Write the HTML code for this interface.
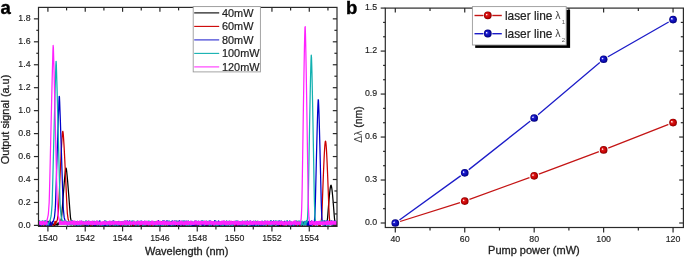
<!DOCTYPE html>
<html><head><meta charset="utf-8"><style>
html,body{margin:0;padding:0;background:#fff;}
svg{display:block;will-change:transform;font-family:"Liberation Sans",sans-serif;}
</style></head><body>
<svg width="685" height="258" viewBox="0 0 685 258">
<defs>
<clipPath id="clipA"><rect x="38.5" y="7.4" width="298.5" height="219.0"/></clipPath>
<radialGradient id="gr" cx="0.5" cy="0.5" r="0.5" fx="0.31" fy="0.38">
<stop offset="0" stop-color="#ffffff"/><stop offset="0.12" stop-color="#ffc8c8"/><stop offset="0.3" stop-color="#dc1c1c"/><stop offset="0.75" stop-color="#c00000"/><stop offset="1" stop-color="#7a0000"/></radialGradient>
<radialGradient id="gb" cx="0.5" cy="0.5" r="0.5" fx="0.31" fy="0.38">
<stop offset="0" stop-color="#ffffff"/><stop offset="0.12" stop-color="#c8c8ff"/><stop offset="0.3" stop-color="#2020d0"/><stop offset="0.75" stop-color="#0808a8"/><stop offset="1" stop-color="#000070"/></radialGradient>
</defs>
<rect width="685" height="258" fill="#fff"/>
<g clip-path="url(#clipA)">
<polyline fill="none" stroke="#000000" stroke-width="1.25" stroke-linejoin="round" points="39.10,225.06 39.55,225.40 40.00,223.56 40.45,225.40 40.90,224.09 41.35,224.87 41.80,225.40 42.25,224.22 42.70,225.40 43.15,224.56 43.60,225.40 44.05,225.40 44.50,224.60 44.95,222.75 45.40,225.40 45.85,225.40 46.30,223.67 46.75,222.20 47.20,223.90 47.65,224.73 48.10,222.07 48.55,225.40 49.00,222.61 49.45,225.22 49.90,225.40 50.35,225.40 50.80,225.13 51.25,222.80 51.70,225.40 52.15,223.88 52.60,223.61 53.05,224.84 53.50,224.03 53.95,225.40 54.40,225.40 54.85,225.40 55.30,223.42 55.75,224.58 56.20,225.11 56.65,223.86 57.10,224.47 57.55,225.17 58.00,222.90 58.25,223.34 58.50,224.54 58.75,223.91 59.00,224.04 59.25,222.53 59.50,223.20 59.75,223.13 60.00,222.05 60.25,222.42 60.50,222.06 60.75,221.18 61.00,220.08 61.25,218.99 61.50,217.81 61.75,214.80 62.00,211.79 62.25,208.73 62.50,205.35 62.75,201.98 63.00,198.66 63.25,195.41 63.50,192.18 63.75,189.00 64.00,185.83 64.25,182.73 64.50,179.72 64.75,176.99 65.00,174.57 65.25,172.12 65.50,169.98 65.75,168.54 66.00,168.03 66.25,168.54 66.50,169.98 66.75,172.12 67.00,174.57 67.25,176.99 67.50,179.72 67.75,182.73 68.00,185.83 68.25,189.00 68.50,192.18 68.75,195.41 69.00,198.66 69.25,201.98 69.50,205.35 69.75,208.73 70.00,211.79 70.25,214.80 70.50,217.81 70.75,218.99 71.00,220.08 71.25,221.18 71.50,222.06 71.75,222.42 72.00,222.15 72.25,223.13 72.50,223.48 72.75,223.79 73.00,224.04 73.25,224.29 73.50,223.84 73.75,224.79 74.00,225.05 74.45,224.62 74.90,224.85 75.35,223.95 75.80,222.17 76.25,223.38 76.70,224.18 77.15,223.71 77.60,223.44 78.05,225.40 78.50,222.42 78.95,222.97 79.40,222.53 79.85,222.89 80.30,224.75 80.75,224.72 81.20,225.40 81.65,223.64 82.10,225.40 82.55,225.40 83.00,225.40 83.45,225.40 83.90,224.99 84.35,225.40 84.80,225.40 85.25,225.40 85.70,225.40 86.15,224.88 86.60,225.40 87.05,222.53 87.50,223.73 87.95,225.40 88.40,225.39 88.85,224.95 89.30,224.88 89.75,225.40 90.20,222.65 90.65,221.99 91.10,224.41 91.55,224.33 92.00,225.40 92.45,225.40 92.90,224.97 93.35,225.33 93.80,222.74 94.25,225.40 94.70,225.40 95.15,222.18 95.60,224.12 96.05,225.40 96.50,224.05 96.95,225.40 97.40,224.12 97.85,222.06 98.30,222.58 98.75,223.35 99.20,225.35 99.65,224.86 100.10,225.40 100.55,223.00 101.00,224.10 101.45,222.97 101.90,225.03 102.35,225.40 102.80,222.82 103.25,222.03 103.70,222.63 104.15,222.85 104.60,222.79 105.05,223.15 105.50,225.40 105.95,224.17 106.40,224.92 106.85,225.40 107.30,225.40 107.75,225.26 108.20,225.36 108.65,223.37 109.10,222.16 109.55,224.49 110.00,222.25 110.45,222.01 110.90,222.16 111.35,224.87 111.80,225.40 112.25,225.40 112.70,225.40 113.15,225.40 113.60,223.68 114.05,222.42 114.50,222.69 114.95,224.35 115.40,223.55 115.85,222.88 116.30,225.40 116.75,223.52 117.20,222.37 117.65,222.96 118.10,223.10 118.55,224.35 119.00,225.40 119.45,222.93 119.90,225.02 120.35,222.87 120.80,222.09 121.25,224.73 121.70,224.71 122.15,222.20 122.60,223.22 123.05,225.40 123.50,225.40 123.95,225.40 124.40,222.39 124.85,222.85 125.30,225.40 125.75,222.75 126.20,222.05 126.65,223.53 127.10,224.94 127.55,224.03 128.00,225.40 128.45,225.40 128.90,222.09 129.35,223.57 129.80,224.13 130.25,222.26 130.70,224.56 131.15,222.55 131.60,222.76 132.05,225.40 132.50,225.39 132.95,225.20 133.40,225.40 133.85,223.86 134.30,225.36 134.75,224.62 135.20,225.40 135.65,222.37 136.10,224.92 136.55,224.44 137.00,223.87 137.45,222.40 137.90,224.62 138.35,222.34 138.80,224.24 139.25,224.11 139.70,224.14 140.15,225.40 140.60,224.53 141.05,225.40 141.50,225.40 141.95,222.88 142.40,225.40 142.85,224.37 143.30,223.22 143.75,223.99 144.20,225.05 144.65,224.17 145.10,224.00 145.55,222.95 146.00,225.40 146.45,223.98 146.90,225.40 147.35,225.28 147.80,223.00 148.25,224.22 148.70,223.97 149.15,223.06 149.60,222.36 150.05,224.51 150.50,223.74 150.95,224.23 151.40,224.20 151.85,223.37 152.30,224.47 152.75,224.10 153.20,224.35 153.65,222.23 154.10,223.34 154.55,222.52 155.00,222.22 155.45,225.36 155.90,223.98 156.35,222.22 156.80,222.69 157.25,225.40 157.70,225.40 158.15,224.52 158.60,225.40 159.05,225.40 159.50,225.40 159.95,223.47 160.40,222.95 160.85,222.43 161.30,225.40 161.75,223.26 162.20,223.52 162.65,225.40 163.10,222.50 163.55,222.11 164.00,225.40 164.45,222.18 164.90,224.72 165.35,224.31 165.80,222.00 166.25,222.73 166.70,225.40 167.15,224.57 167.60,224.18 168.05,224.99 168.50,225.40 168.95,225.09 169.40,223.23 169.85,225.40 170.30,224.00 170.75,224.53 171.20,225.40 171.65,225.03 172.10,223.68 172.55,224.20 173.00,225.40 173.45,222.03 173.90,222.93 174.35,222.09 174.80,225.40 175.25,225.33 175.70,225.40 176.15,222.97 176.60,225.31 177.05,225.40 177.50,224.61 177.95,222.36 178.40,222.79 178.85,225.36 179.30,225.40 179.75,222.33 180.20,223.93 180.65,223.33 181.10,225.40 181.55,225.40 182.00,223.39 182.45,224.60 182.90,225.40 183.35,222.24 183.80,223.64 184.25,222.87 184.70,225.40 185.15,222.62 185.60,225.40 186.05,222.59 186.50,224.46 186.95,224.99 187.40,224.01 187.85,222.29 188.30,225.32 188.75,225.40 189.20,224.13 189.65,225.40 190.10,225.40 190.55,225.40 191.00,225.40 191.45,225.40 191.90,225.12 192.35,225.15 192.80,223.06 193.25,225.22 193.70,224.25 194.15,225.40 194.60,224.95 195.05,225.40 195.50,225.40 195.95,225.40 196.40,223.18 196.85,224.02 197.30,225.40 197.75,224.37 198.20,222.26 198.65,225.40 199.10,222.79 199.55,224.56 200.00,224.28 200.45,222.72 200.90,224.74 201.35,224.22 201.80,223.39 202.25,222.04 202.70,224.97 203.15,222.73 203.60,223.30 204.05,223.63 204.50,224.69 204.95,224.95 205.40,225.40 205.85,225.40 206.30,225.40 206.75,223.15 207.20,225.37 207.65,225.40 208.10,225.40 208.55,222.69 209.00,222.55 209.45,223.47 209.90,225.25 210.35,225.40 210.80,225.20 211.25,224.44 211.70,225.40 212.15,224.50 212.60,225.34 213.05,222.13 213.50,222.08 213.95,224.04 214.40,225.40 214.85,222.12 215.30,225.13 215.75,224.91 216.20,225.40 216.65,224.80 217.10,224.37 217.55,224.24 218.00,225.40 218.45,224.23 218.90,225.40 219.35,225.33 219.80,225.40 220.25,224.71 220.70,225.40 221.15,225.40 221.60,225.15 222.05,225.40 222.50,223.86 222.95,224.12 223.40,223.10 223.85,223.53 224.30,223.26 224.75,222.51 225.20,224.76 225.65,225.05 226.10,222.03 226.55,225.40 227.00,223.22 227.45,223.60 227.90,225.40 228.35,222.71 228.80,222.45 229.25,223.67 229.70,223.18 230.15,222.82 230.60,225.40 231.05,224.14 231.50,224.23 231.95,222.72 232.40,222.85 232.85,222.75 233.30,223.87 233.75,222.45 234.20,223.41 234.65,223.37 235.10,225.40 235.55,225.40 236.00,225.40 236.45,224.89 236.90,225.40 237.35,222.71 237.80,223.98 238.25,223.67 238.70,223.67 239.15,223.42 239.60,224.30 240.05,225.40 240.50,222.89 240.95,223.11 241.40,224.24 241.85,224.09 242.30,223.52 242.75,225.40 243.20,223.17 243.65,225.39 244.10,225.40 244.55,225.33 245.00,223.20 245.45,225.40 245.90,223.15 246.35,222.07 246.80,224.28 247.25,224.79 247.70,224.35 248.15,223.41 248.60,223.03 249.05,223.72 249.50,223.60 249.95,225.40 250.40,225.40 250.85,225.38 251.30,223.14 251.75,225.15 252.20,223.94 252.65,225.40 253.10,225.40 253.55,225.31 254.00,223.46 254.45,223.37 254.90,223.45 255.35,225.21 255.80,224.18 256.25,224.41 256.70,224.41 257.15,225.40 257.60,222.45 258.05,225.40 258.50,222.06 258.95,222.25 259.40,225.40 259.85,224.44 260.30,222.78 260.75,222.10 261.20,224.48 261.65,225.31 262.10,225.40 262.55,222.21 263.00,225.40 263.45,223.88 263.90,225.40 264.35,224.14 264.80,222.17 265.25,225.40 265.70,222.78 266.15,224.21 266.60,222.48 267.05,223.32 267.50,225.40 267.95,222.43 268.40,224.32 268.85,225.40 269.30,225.40 269.75,224.29 270.20,224.48 270.65,225.16 271.10,225.40 271.55,224.97 272.00,225.10 272.45,222.69 272.90,225.40 273.35,223.10 273.80,222.70 274.25,225.40 274.70,222.30 275.15,223.27 275.60,222.41 276.05,225.22 276.50,224.84 276.95,224.74 277.40,221.96 277.85,223.84 278.30,224.89 278.75,224.58 279.20,225.28 279.65,225.40 280.10,225.40 280.55,222.72 281.00,225.24 281.45,222.25 281.90,225.40 282.35,225.33 282.80,224.20 283.25,225.40 283.70,224.83 284.15,222.16 284.60,222.49 285.05,222.82 285.50,223.65 285.95,222.35 286.40,222.23 286.85,224.03 287.30,223.24 287.75,225.40 288.20,223.19 288.65,224.48 289.10,223.09 289.55,223.59 290.00,225.23 290.45,225.40 290.90,222.29 291.35,225.40 291.80,224.38 292.25,224.97 292.70,225.18 293.15,223.16 293.60,222.07 294.05,225.35 294.50,223.54 294.95,225.17 295.40,223.99 295.85,224.74 296.30,225.40 296.75,225.40 297.20,225.40 297.65,222.39 298.10,224.27 298.55,225.40 299.00,222.39 299.45,221.97 299.90,224.48 300.35,225.40 300.80,225.40 301.25,225.40 301.70,224.98 302.15,225.40 302.60,225.40 303.05,225.36 303.50,223.93 303.95,222.48 304.40,223.11 304.85,224.65 305.30,224.65 305.75,224.14 306.20,224.82 306.65,225.00 307.10,225.40 307.55,225.27 308.00,222.11 308.45,225.40 308.90,224.24 309.35,223.66 309.80,222.59 310.25,225.40 310.70,225.30 311.15,225.40 311.60,224.71 312.05,224.50 312.50,222.17 312.95,222.65 313.40,222.54 313.85,225.40 314.30,225.40 314.75,223.29 315.20,222.44 315.65,224.38 316.10,223.85 316.55,225.40 317.00,224.75 317.45,222.29 317.90,222.76 318.35,222.62 318.80,222.08 319.25,225.40 319.70,225.40 320.15,225.40 320.60,224.15 321.05,223.42 321.50,222.23 321.95,223.23 322.40,223.58 322.85,223.04 323.30,224.45 323.55,224.02 323.80,225.40 324.05,222.96 324.30,225.40 324.55,222.33 324.80,223.58 325.05,225.15 325.30,225.40 325.55,225.39 325.80,223.63 326.05,223.34 326.30,224.41 326.55,224.02 326.80,223.29 327.05,222.11 327.30,220.46 327.55,218.02 327.80,215.01 328.05,211.80 328.30,208.61 328.55,205.45 328.80,202.33 329.05,199.42 329.30,196.65 329.55,193.97 329.80,191.55 330.05,189.35 330.30,187.65 330.55,186.30 330.80,185.46 331.05,185.25 331.30,185.73 331.55,186.79 331.80,188.29 332.05,190.21 332.30,192.48 332.55,195.03 332.80,197.75 333.05,200.55 333.30,203.58 333.55,206.71 333.80,209.89 334.05,213.08 334.30,216.30 334.55,219.00 334.80,221.41 335.05,222.58 335.30,222.10 335.55,224.18 335.80,222.78 336.05,224.97 336.30,225.36"/>
<polyline fill="none" stroke="#cc0000" stroke-width="1.25" stroke-linejoin="round" points="39.10,222.51 39.55,224.91 40.00,221.52 40.45,223.87 40.90,225.40 41.35,225.28 41.80,224.28 42.25,223.00 42.70,221.53 43.15,225.40 43.60,224.40 44.05,225.33 44.50,221.40 44.95,225.40 45.40,225.40 45.85,225.40 46.30,224.40 46.75,221.79 47.20,221.87 47.65,222.65 48.10,221.28 48.55,221.62 49.00,224.73 49.45,225.40 49.90,221.60 50.35,222.58 50.80,225.40 51.25,223.00 51.70,224.48 52.15,224.50 52.60,224.72 53.05,225.40 53.50,225.40 53.95,224.99 54.40,224.62 54.85,221.50 55.10,224.32 55.35,221.45 55.60,223.50 55.85,223.09 56.10,222.19 56.35,222.14 56.60,221.55 56.85,220.97 57.10,220.39 57.35,219.81 57.60,218.12 57.85,216.32 58.10,214.52 58.35,211.96 58.60,207.02 58.85,202.10 59.10,196.95 59.35,191.41 59.60,185.89 59.85,180.47 60.10,175.15 60.35,169.87 60.60,164.66 60.85,159.48 61.10,154.42 61.35,149.52 61.60,145.19 61.85,141.30 62.10,137.25 62.35,133.94 62.60,131.85 62.85,131.34 63.10,132.51 63.35,135.14 63.60,138.84 63.85,142.81 64.10,146.84 64.35,151.46 64.60,156.43 64.85,161.54 65.10,166.74 65.35,171.98 65.60,177.27 65.85,182.61 66.10,188.10 66.35,193.62 66.60,199.16 66.85,204.07 67.10,209.00 67.35,213.45 67.60,215.24 67.85,217.04 68.10,218.85 68.35,220.04 68.60,220.62 68.85,221.20 69.10,221.79 69.35,222.37 69.60,222.84 69.85,223.25 70.10,222.55 70.35,224.08 70.60,224.49 70.85,224.90 71.30,223.58 71.75,224.75 72.20,221.37 72.65,221.87 73.10,221.33 73.55,225.06 74.00,225.40 74.45,225.40 74.90,223.86 75.35,222.77 75.80,224.12 76.25,225.22 76.70,224.28 77.15,223.23 77.60,222.95 78.05,222.57 78.50,222.06 78.95,223.00 79.40,225.40 79.85,222.09 80.30,224.92 80.75,223.51 81.20,224.51 81.65,222.62 82.10,225.40 82.55,225.16 83.00,225.17 83.45,225.40 83.90,221.87 84.35,223.45 84.80,224.75 85.25,224.39 85.70,221.31 86.15,223.81 86.60,225.24 87.05,222.26 87.50,223.06 87.95,221.32 88.40,225.40 88.85,223.98 89.30,222.20 89.75,222.09 90.20,221.71 90.65,225.40 91.10,224.92 91.55,225.40 92.00,225.40 92.45,221.41 92.90,223.42 93.35,221.63 93.80,224.51 94.25,221.96 94.70,224.11 95.15,225.09 95.60,222.42 96.05,221.55 96.50,225.40 96.95,223.35 97.40,223.23 97.85,225.31 98.30,224.53 98.75,225.40 99.20,225.38 99.65,225.12 100.10,223.34 100.55,223.07 101.00,225.38 101.45,225.40 101.90,224.74 102.35,222.93 102.80,225.40 103.25,224.82 103.70,225.38 104.15,222.33 104.60,223.60 105.05,225.40 105.50,225.40 105.95,224.39 106.40,223.59 106.85,223.13 107.30,225.40 107.75,225.40 108.20,222.84 108.65,224.32 109.10,224.97 109.55,224.84 110.00,221.51 110.45,224.82 110.90,223.51 111.35,224.59 111.80,224.28 112.25,221.97 112.70,221.29 113.15,224.55 113.60,225.40 114.05,222.67 114.50,225.38 114.95,225.40 115.40,221.78 115.85,224.24 116.30,222.20 116.75,224.34 117.20,221.87 117.65,224.05 118.10,225.40 118.55,225.40 119.00,223.58 119.45,223.12 119.90,221.73 120.35,225.40 120.80,223.22 121.25,224.52 121.70,223.83 122.15,225.40 122.60,224.97 123.05,223.74 123.50,221.65 123.95,225.40 124.40,223.90 124.85,222.28 125.30,221.44 125.75,225.40 126.20,225.40 126.65,221.56 127.10,221.40 127.55,223.94 128.00,225.40 128.45,221.65 128.90,224.43 129.35,221.76 129.80,223.23 130.25,222.17 130.70,225.40 131.15,222.37 131.60,225.29 132.05,224.34 132.50,222.06 132.95,222.15 133.40,225.40 133.85,225.31 134.30,224.37 134.75,223.76 135.20,224.45 135.65,225.40 136.10,225.16 136.55,222.69 137.00,221.80 137.45,225.40 137.90,223.53 138.35,222.52 138.80,225.40 139.25,222.10 139.70,225.40 140.15,223.34 140.60,223.59 141.05,223.19 141.50,224.85 141.95,224.26 142.40,223.42 142.85,224.23 143.30,223.03 143.75,224.13 144.20,224.17 144.65,225.40 145.10,223.24 145.55,223.91 146.00,225.22 146.45,222.49 146.90,222.41 147.35,224.07 147.80,225.40 148.25,223.99 148.70,225.40 149.15,225.40 149.60,224.21 150.05,225.40 150.50,224.15 150.95,223.80 151.40,225.40 151.85,223.15 152.30,225.40 152.75,222.65 153.20,222.42 153.65,223.79 154.10,225.40 154.55,223.83 155.00,224.48 155.45,221.52 155.90,225.40 156.35,222.01 156.80,221.29 157.25,222.65 157.70,222.22 158.15,225.40 158.60,221.36 159.05,223.89 159.50,221.49 159.95,221.70 160.40,225.40 160.85,222.36 161.30,221.63 161.75,225.40 162.20,224.62 162.65,222.53 163.10,225.40 163.55,221.80 164.00,225.01 164.45,222.22 164.90,225.40 165.35,223.84 165.80,221.68 166.25,225.36 166.70,225.08 167.15,223.82 167.60,224.79 168.05,225.40 168.50,225.40 168.95,225.40 169.40,221.60 169.85,222.92 170.30,221.81 170.75,225.40 171.20,222.38 171.65,225.40 172.10,223.69 172.55,223.15 173.00,224.57 173.45,221.93 173.90,223.57 174.35,223.44 174.80,221.88 175.25,225.40 175.70,221.31 176.15,223.18 176.60,224.40 177.05,222.31 177.50,225.07 177.95,221.32 178.40,223.45 178.85,224.57 179.30,222.48 179.75,224.15 180.20,225.40 180.65,222.59 181.10,225.40 181.55,222.20 182.00,225.12 182.45,223.13 182.90,221.35 183.35,223.41 183.80,223.01 184.25,224.82 184.70,225.40 185.15,225.40 185.60,225.40 186.05,223.25 186.50,224.20 186.95,223.79 187.40,221.81 187.85,225.40 188.30,225.26 188.75,223.06 189.20,225.40 189.65,225.40 190.10,224.60 190.55,225.40 191.00,224.59 191.45,225.27 191.90,223.42 192.35,223.39 192.80,225.38 193.25,223.21 193.70,223.98 194.15,225.40 194.60,221.60 195.05,225.17 195.50,225.40 195.95,225.40 196.40,223.14 196.85,221.93 197.30,222.39 197.75,224.36 198.20,225.07 198.65,225.40 199.10,223.10 199.55,223.53 200.00,224.62 200.45,223.10 200.90,224.14 201.35,221.59 201.80,222.65 202.25,225.15 202.70,221.77 203.15,225.40 203.60,223.69 204.05,224.34 204.50,225.21 204.95,225.40 205.40,222.41 205.85,225.40 206.30,223.59 206.75,221.57 207.20,225.40 207.65,225.40 208.10,223.29 208.55,223.81 209.00,223.12 209.45,222.23 209.90,225.40 210.35,224.84 210.80,224.88 211.25,225.40 211.70,221.84 212.15,222.39 212.60,222.74 213.05,225.40 213.50,222.07 213.95,222.58 214.40,224.03 214.85,222.60 215.30,224.10 215.75,225.27 216.20,225.40 216.65,225.23 217.10,225.40 217.55,224.70 218.00,222.56 218.45,222.84 218.90,222.07 219.35,222.76 219.80,225.06 220.25,223.57 220.70,224.18 221.15,222.36 221.60,223.73 222.05,225.06 222.50,223.12 222.95,221.45 223.40,225.31 223.85,221.89 224.30,225.40 224.75,225.09 225.20,225.21 225.65,222.59 226.10,221.55 226.55,222.58 227.00,224.74 227.45,221.89 227.90,224.74 228.35,225.20 228.80,221.75 229.25,223.18 229.70,222.86 230.15,223.00 230.60,221.38 231.05,224.01 231.50,222.10 231.95,222.83 232.40,222.00 232.85,224.18 233.30,222.69 233.75,223.49 234.20,224.84 234.65,225.34 235.10,223.22 235.55,225.40 236.00,221.73 236.45,225.40 236.90,225.40 237.35,225.40 237.80,221.64 238.25,224.65 238.70,225.40 239.15,225.40 239.60,225.40 240.05,222.86 240.50,223.16 240.95,222.83 241.40,222.63 241.85,225.40 242.30,223.38 242.75,224.56 243.20,222.21 243.65,222.20 244.10,221.83 244.55,225.40 245.00,221.95 245.45,221.71 245.90,221.56 246.35,225.40 246.80,225.37 247.25,225.40 247.70,225.40 248.15,222.06 248.60,222.24 249.05,223.16 249.50,222.17 249.95,223.17 250.40,224.95 250.85,225.40 251.30,225.40 251.75,222.52 252.20,225.37 252.65,224.78 253.10,224.24 253.55,225.40 254.00,225.11 254.45,224.97 254.90,222.74 255.35,224.53 255.80,224.78 256.25,221.45 256.70,223.83 257.15,222.04 257.60,223.24 258.05,225.40 258.50,224.30 258.95,224.18 259.40,222.44 259.85,224.64 260.30,222.79 260.75,223.66 261.20,225.31 261.65,221.98 262.10,225.40 262.55,222.20 263.00,225.40 263.45,225.40 263.90,225.39 264.35,222.50 264.80,221.38 265.25,225.40 265.70,223.90 266.15,223.89 266.60,222.32 267.05,225.40 267.50,223.88 267.95,224.64 268.40,222.14 268.85,225.09 269.30,221.56 269.75,224.97 270.20,225.32 270.65,222.82 271.10,223.86 271.55,225.40 272.00,223.15 272.45,225.40 272.90,222.36 273.35,222.83 273.80,222.37 274.25,223.19 274.70,224.60 275.15,224.36 275.60,224.40 276.05,221.83 276.50,225.40 276.95,221.85 277.40,225.40 277.85,225.37 278.30,225.07 278.75,221.78 279.20,223.84 279.65,224.47 280.10,221.87 280.55,225.23 281.00,224.05 281.45,223.69 281.90,222.54 282.35,222.54 282.80,223.10 283.25,224.63 283.70,224.75 284.15,225.40 284.60,222.08 285.05,223.01 285.50,222.60 285.95,225.40 286.40,224.17 286.85,222.44 287.30,223.44 287.75,225.40 288.20,224.05 288.65,221.86 289.10,225.20 289.55,225.40 290.00,224.88 290.45,222.80 290.90,222.08 291.35,225.40 291.80,225.40 292.25,225.15 292.70,224.75 293.15,223.74 293.60,225.40 294.05,224.74 294.50,225.40 294.95,221.40 295.40,222.67 295.85,225.40 296.30,221.46 296.75,225.40 297.20,224.45 297.65,221.35 298.10,222.33 298.55,222.65 299.00,224.19 299.45,225.40 299.90,223.14 300.35,225.40 300.80,225.37 301.25,224.43 301.70,225.40 302.15,224.37 302.60,222.35 303.05,222.85 303.50,223.85 303.95,223.17 304.40,224.04 304.85,225.40 305.30,223.32 305.75,224.34 306.20,222.61 306.65,221.74 307.10,224.21 307.55,223.47 308.00,222.56 308.45,224.26 308.90,225.25 309.35,222.70 309.80,221.89 310.25,222.44 310.70,222.82 311.15,222.03 311.60,222.92 312.05,223.12 312.50,224.09 312.95,224.82 313.40,223.19 313.85,225.40 314.30,224.27 314.75,222.39 315.20,222.75 315.65,223.18 316.10,225.14 316.55,224.25 317.00,224.08 317.45,223.22 317.90,224.32 318.15,222.95 318.40,221.63 318.65,225.40 318.90,223.05 319.15,222.41 319.40,224.43 319.65,223.90 319.90,221.40 320.15,225.40 320.40,223.63 320.65,223.82 320.90,222.40 321.15,221.58 321.40,219.98 321.65,217.51 321.90,212.98 322.15,207.65 322.40,200.88 322.65,194.16 322.90,187.48 323.15,180.88 323.40,174.40 323.65,168.50 323.90,162.75 324.15,157.26 324.40,152.42 324.65,148.18 324.90,144.89 325.15,142.44 325.40,141.18 325.65,141.32 325.90,142.85 326.15,145.49 326.40,148.92 326.65,153.36 326.90,158.30 327.15,163.88 327.40,169.67 327.65,175.66 327.90,182.19 328.15,188.81 328.40,195.50 328.65,202.24 328.90,208.89 329.15,214.00 329.40,218.00 329.65,220.47 329.90,222.33 330.15,223.16 330.40,222.42 330.65,222.25 330.90,223.16 331.15,224.01 331.40,223.53 331.65,225.27 331.90,221.46 332.15,224.61 332.40,223.13 332.65,222.20 332.90,222.22 333.15,224.02 333.40,224.91 333.65,223.60 334.10,225.40 334.55,222.13 335.00,224.60 335.45,222.04 335.90,225.05 336.35,224.49"/>
<polyline fill="none" stroke="#0000cc" stroke-width="1.25" stroke-linejoin="round" points="39.10,224.81 39.55,223.86 40.00,225.18 40.45,225.40 40.90,222.23 41.35,224.65 41.80,224.85 42.25,224.54 42.70,223.56 43.15,223.84 43.60,222.69 44.05,222.57 44.50,224.21 44.95,221.09 45.40,221.50 45.85,225.40 46.30,221.64 46.75,221.21 47.20,221.88 47.65,225.40 48.10,221.62 48.55,222.72 49.00,225.40 49.45,225.40 49.90,220.96 50.35,222.59 50.80,224.83 51.25,225.40 51.70,224.96 51.95,224.38 52.20,221.93 52.45,223.24 52.70,222.67 52.95,221.22 53.20,221.53 53.45,220.72 53.70,219.92 53.95,219.11 54.20,218.30 54.45,217.21 54.70,214.69 54.95,212.18 55.20,209.66 55.45,204.70 55.70,197.78 55.95,190.85 56.20,183.25 56.45,175.42 56.70,167.59 56.95,159.94 57.20,152.31 57.45,144.70 57.70,137.06 57.95,129.43 58.20,121.88 58.45,114.91 58.70,108.39 58.95,101.23 59.20,96.29 59.45,96.94 59.70,102.56 59.95,109.71 60.20,116.23 60.45,123.38 60.70,130.95 60.95,138.59 61.20,146.22 61.45,153.83 61.70,161.47 61.95,169.16 62.20,176.98 62.45,184.82 62.70,192.24 62.95,199.16 63.20,206.08 63.45,210.17 63.70,212.68 63.95,215.20 64.20,217.65 64.45,218.46 64.70,219.27 64.95,220.08 65.20,220.89 65.45,221.64 65.70,222.21 65.95,222.78 66.20,221.46 66.45,223.93 66.70,223.59 66.95,223.31 67.20,221.96 67.45,225.04 67.90,223.81 68.35,223.88 68.80,223.15 69.25,221.65 69.70,224.59 70.15,221.64 70.60,223.98 71.05,223.43 71.50,224.71 71.95,223.41 72.40,220.83 72.85,222.60 73.30,221.84 73.75,224.38 74.20,224.46 74.65,224.56 75.10,222.97 75.55,222.71 76.00,221.88 76.45,225.40 76.90,222.22 77.35,221.33 77.80,223.20 78.25,225.40 78.70,224.55 79.15,225.40 79.60,225.16 80.05,221.13 80.50,222.85 80.95,222.58 81.40,221.86 81.85,221.19 82.30,222.83 82.75,222.81 83.20,222.75 83.65,222.37 84.10,222.92 84.55,222.45 85.00,225.03 85.45,222.53 85.90,223.68 86.35,222.00 86.80,225.40 87.25,225.20 87.70,225.40 88.15,221.94 88.60,221.17 89.05,222.59 89.50,224.17 89.95,221.67 90.40,221.87 90.85,223.11 91.30,224.78 91.75,224.54 92.20,223.88 92.65,224.45 93.10,223.83 93.55,222.67 94.00,221.06 94.45,225.40 94.90,223.08 95.35,225.40 95.80,225.40 96.25,221.74 96.70,223.03 97.15,221.14 97.60,223.74 98.05,225.40 98.50,224.07 98.95,222.94 99.40,221.04 99.85,220.80 100.30,223.58 100.75,223.93 101.20,225.40 101.65,222.65 102.10,225.03 102.55,225.37 103.00,225.40 103.45,225.40 103.90,222.44 104.35,225.40 104.80,220.88 105.25,225.40 105.70,221.41 106.15,225.40 106.60,225.40 107.05,222.24 107.50,224.87 107.95,222.16 108.40,225.17 108.85,225.40 109.30,221.94 109.75,222.27 110.20,221.49 110.65,222.18 111.10,225.40 111.55,222.74 112.00,222.30 112.45,223.67 112.90,221.07 113.35,224.80 113.80,220.89 114.25,222.25 114.70,225.40 115.15,225.40 115.60,222.62 116.05,221.70 116.50,225.40 116.95,224.49 117.40,222.19 117.85,225.29 118.30,221.46 118.75,223.52 119.20,225.40 119.65,224.18 120.10,223.04 120.55,223.79 121.00,222.47 121.45,225.40 121.90,221.81 122.35,224.20 122.80,222.65 123.25,222.73 123.70,223.90 124.15,224.08 124.60,221.87 125.05,221.00 125.50,221.88 125.95,223.08 126.40,224.59 126.85,225.40 127.30,220.84 127.75,222.33 128.20,221.65 128.65,224.37 129.10,222.87 129.55,220.82 130.00,221.62 130.45,222.89 130.90,224.50 131.35,223.84 131.80,221.31 132.25,224.13 132.70,222.43 133.15,222.89 133.60,221.27 134.05,221.76 134.50,224.64 134.95,225.40 135.40,224.75 135.85,223.88 136.30,222.97 136.75,221.71 137.20,221.32 137.65,225.40 138.10,221.61 138.55,221.73 139.00,221.43 139.45,223.05 139.90,224.69 140.35,221.51 140.80,221.76 141.25,222.43 141.70,221.17 142.15,224.29 142.60,225.40 143.05,223.15 143.50,221.81 143.95,225.10 144.40,222.07 144.85,221.07 145.30,224.91 145.75,222.86 146.20,222.47 146.65,223.64 147.10,225.07 147.55,224.80 148.00,222.07 148.45,221.84 148.90,223.67 149.35,225.40 149.80,221.76 150.25,221.95 150.70,224.92 151.15,223.01 151.60,221.26 152.05,221.33 152.50,223.33 152.95,223.58 153.40,222.96 153.85,225.16 154.30,225.14 154.75,225.21 155.20,222.34 155.65,224.20 156.10,223.09 156.55,223.99 157.00,223.35 157.45,225.38 157.90,225.40 158.35,220.71 158.80,224.14 159.25,225.40 159.70,222.72 160.15,221.87 160.60,225.34 161.05,222.91 161.50,224.30 161.95,223.34 162.40,225.40 162.85,225.40 163.30,220.75 163.75,221.43 164.20,223.52 164.65,223.08 165.10,224.76 165.55,221.91 166.00,223.86 166.45,220.99 166.90,221.98 167.35,221.69 167.80,220.90 168.25,224.80 168.70,225.40 169.15,225.10 169.60,225.21 170.05,225.40 170.50,225.40 170.95,223.13 171.40,221.41 171.85,223.68 172.30,220.99 172.75,221.19 173.20,225.40 173.65,222.91 174.10,224.01 174.55,225.40 175.00,220.92 175.45,224.79 175.90,223.09 176.35,222.67 176.80,220.94 177.25,222.51 177.70,224.04 178.15,223.73 178.60,225.32 179.05,220.88 179.50,220.74 179.95,224.98 180.40,225.40 180.85,224.79 181.30,224.26 181.75,221.23 182.20,221.22 182.65,221.59 183.10,225.40 183.55,221.87 184.00,222.29 184.45,222.64 184.90,220.78 185.35,225.40 185.80,225.40 186.25,222.04 186.70,221.03 187.15,222.47 187.60,224.56 188.05,222.95 188.50,222.03 188.95,225.40 189.40,224.42 189.85,224.79 190.30,225.40 190.75,223.55 191.20,225.27 191.65,224.89 192.10,225.40 192.55,222.47 193.00,225.40 193.45,222.25 193.90,225.13 194.35,225.40 194.80,221.09 195.25,224.99 195.70,221.06 196.15,221.43 196.60,221.31 197.05,225.40 197.50,223.74 197.95,225.40 198.40,221.09 198.85,221.56 199.30,222.74 199.75,223.71 200.20,224.33 200.65,221.67 201.10,223.57 201.55,222.74 202.00,225.40 202.45,224.98 202.90,225.40 203.35,222.27 203.80,223.16 204.25,225.40 204.70,221.41 205.15,224.74 205.60,223.94 206.05,225.35 206.50,224.71 206.95,221.58 207.40,224.36 207.85,225.28 208.30,223.50 208.75,224.45 209.20,221.23 209.65,225.40 210.10,220.81 210.55,225.40 211.00,221.27 211.45,222.52 211.90,225.04 212.35,223.57 212.80,224.63 213.25,224.78 213.70,225.09 214.15,224.20 214.60,220.74 215.05,220.71 215.50,221.11 215.95,225.40 216.40,224.61 216.85,221.27 217.30,225.40 217.75,222.20 218.20,224.59 218.65,220.81 219.10,225.40 219.55,221.76 220.00,224.33 220.45,225.40 220.90,225.40 221.35,221.62 221.80,223.30 222.25,225.18 222.70,223.81 223.15,221.18 223.60,225.00 224.05,223.06 224.50,225.40 224.95,225.21 225.40,221.96 225.85,222.28 226.30,225.12 226.75,225.40 227.20,225.40 227.65,222.85 228.10,223.47 228.55,224.69 229.00,225.07 229.45,222.83 229.90,222.30 230.35,221.73 230.80,222.99 231.25,225.09 231.70,225.40 232.15,222.17 232.60,223.96 233.05,222.23 233.50,225.40 233.95,221.74 234.40,224.36 234.85,221.57 235.30,221.44 235.75,223.49 236.20,225.40 236.65,221.19 237.10,223.58 237.55,221.40 238.00,224.74 238.45,225.18 238.90,221.62 239.35,224.18 239.80,225.30 240.25,224.16 240.70,222.93 241.15,225.40 241.60,223.34 242.05,223.75 242.50,223.36 242.95,225.40 243.40,222.27 243.85,221.71 244.30,221.44 244.75,224.44 245.20,222.29 245.65,224.10 246.10,222.07 246.55,225.40 247.00,221.40 247.45,220.95 247.90,223.48 248.35,223.38 248.80,223.28 249.25,223.24 249.70,225.40 250.15,220.87 250.60,224.97 251.05,225.20 251.50,225.40 251.95,224.82 252.40,221.70 252.85,225.40 253.30,225.40 253.75,222.35 254.20,225.13 254.65,225.40 255.10,222.90 255.55,223.03 256.00,223.32 256.45,222.33 256.90,225.40 257.35,221.41 257.80,222.25 258.25,225.40 258.70,225.40 259.15,223.48 259.60,223.45 260.05,224.66 260.50,225.40 260.95,223.97 261.40,225.40 261.85,222.94 262.30,221.46 262.75,225.39 263.20,223.05 263.65,222.09 264.10,225.30 264.55,221.65 265.00,221.04 265.45,224.06 265.90,223.89 266.35,221.58 266.80,223.31 267.25,224.02 267.70,221.02 268.15,221.92 268.60,224.34 269.05,224.88 269.50,224.36 269.95,223.80 270.40,220.80 270.85,221.77 271.30,221.18 271.75,221.71 272.20,221.53 272.65,225.40 273.10,223.35 273.55,220.93 274.00,221.06 274.45,224.83 274.90,223.88 275.35,222.72 275.80,224.20 276.25,223.28 276.70,225.40 277.15,223.82 277.60,223.42 278.05,225.40 278.50,225.40 278.95,220.86 279.40,221.93 279.85,221.04 280.30,222.72 280.75,221.75 281.20,221.33 281.65,221.33 282.10,225.40 282.55,222.67 283.00,224.74 283.45,222.47 283.90,224.70 284.35,223.22 284.80,221.11 285.25,222.78 285.70,224.82 286.15,223.34 286.60,223.81 287.05,220.97 287.50,224.62 287.95,224.52 288.40,222.64 288.85,225.40 289.30,222.93 289.75,220.94 290.20,223.37 290.65,224.72 291.10,223.63 291.55,223.26 292.00,225.39 292.45,225.40 292.90,225.40 293.35,224.59 293.80,223.96 294.25,224.62 294.70,224.86 295.15,225.40 295.60,223.19 296.05,221.58 296.50,222.84 296.95,223.06 297.40,222.62 297.85,225.10 298.30,222.29 298.75,223.66 299.20,223.18 299.65,222.83 300.10,223.62 300.55,224.49 301.00,224.87 301.45,224.98 301.90,223.38 302.35,224.09 302.80,222.98 303.25,225.40 303.70,224.26 304.15,221.46 304.60,224.89 305.05,223.14 305.50,223.50 305.95,224.63 306.40,220.76 306.85,224.58 307.30,221.95 307.75,225.33 308.20,225.40 308.65,221.40 309.10,223.78 309.55,225.40 310.00,224.07 310.45,223.78 310.70,222.15 310.95,225.40 311.20,224.96 311.45,220.92 311.70,222.13 311.95,225.35 312.20,224.35 312.45,224.26 312.70,222.48 312.95,222.81 313.20,221.52 313.45,221.68 313.70,223.35 313.95,222.13 314.20,221.92 314.45,220.66 314.70,217.51 314.95,213.74 315.20,206.92 315.45,198.71 315.70,188.26 315.95,177.82 316.20,167.39 316.45,156.99 316.70,146.86 316.95,137.35 317.20,127.92 317.45,119.06 317.70,110.88 317.95,104.25 318.20,99.69 318.45,100.29 318.70,105.49 318.95,112.37 319.20,120.77 319.45,129.80 319.70,139.25 319.95,148.77 320.20,159.07 320.45,169.48 320.70,179.90 320.95,190.35 321.20,200.64 321.45,208.49 321.70,214.49 321.95,218.27 322.20,220.91 322.45,222.17 322.70,223.03 322.95,223.00 323.20,225.40 323.45,221.13 323.70,224.42 323.95,221.56 324.20,221.59 324.45,220.92 324.70,225.08 324.95,223.85 325.20,221.19 325.45,225.40 325.70,225.40 325.95,223.09 326.20,223.46 326.45,221.13 326.90,221.94 327.35,223.24 327.80,220.70 328.25,223.35 328.70,223.35 329.15,222.43 329.60,224.06 330.05,224.23 330.50,222.93 330.95,224.27 331.40,220.98 331.85,222.48 332.30,223.31 332.75,225.40 333.20,224.14 333.65,224.00 334.10,223.11 334.55,223.04 335.00,221.36 335.45,220.89 335.90,223.52 336.35,223.78"/>
<polyline fill="none" stroke="#12b0b0" stroke-width="1.25" stroke-linejoin="round" points="39.10,222.56 39.55,220.60 40.00,224.05 40.45,223.06 40.90,221.55 41.35,224.96 41.80,224.18 42.25,220.69 42.70,221.50 43.15,223.15 43.60,225.28 44.05,221.14 44.50,222.22 44.95,221.53 45.40,220.63 45.85,221.17 46.30,223.64 46.75,225.03 47.20,224.33 47.65,223.16 48.10,223.19 48.35,224.87 48.60,224.55 48.85,222.53 49.10,222.68 49.35,222.38 49.60,220.61 49.85,220.93 50.10,220.10 50.35,219.07 50.60,218.05 50.85,217.03 51.10,216.00 51.35,213.76 51.60,210.58 51.85,207.39 52.10,204.21 52.35,195.70 52.60,186.94 52.85,178.01 53.10,168.10 53.35,158.19 53.60,148.36 53.85,138.69 54.10,129.05 54.35,119.42 54.60,109.74 54.85,100.12 55.10,90.63 55.35,82.25 55.60,73.53 55.85,65.22 56.10,61.31 56.35,65.22 56.60,73.53 56.85,82.25 57.10,90.63 57.35,100.12 57.60,109.74 57.85,119.42 58.10,129.05 58.35,138.69 58.60,148.36 58.85,158.19 59.10,168.10 59.35,178.01 59.60,186.94 59.85,195.70 60.10,204.21 60.35,207.39 60.60,210.58 60.85,213.76 61.10,216.00 61.35,217.03 61.60,218.05 61.85,219.07 62.10,220.10 62.35,220.93 62.60,221.66 62.85,220.95 63.10,221.35 63.35,223.83 63.60,221.11 63.85,221.55 64.10,224.26 64.55,222.68 65.00,220.79 65.45,223.24 65.90,220.85 66.35,224.58 66.80,223.80 67.25,222.07 67.70,224.69 68.15,224.23 68.60,221.24 69.05,223.30 69.50,221.67 69.95,224.57 70.40,224.94 70.85,223.97 71.30,224.87 71.75,220.73 72.20,224.32 72.65,222.89 73.10,225.25 73.55,223.04 74.00,223.82 74.45,223.73 74.90,225.40 75.35,225.21 75.80,221.50 76.25,224.00 76.70,224.57 77.15,224.85 77.60,224.36 78.05,224.61 78.50,225.40 78.95,222.35 79.40,224.06 79.85,225.04 80.30,222.13 80.75,225.37 81.20,224.44 81.65,221.45 82.10,225.18 82.55,223.52 83.00,221.44 83.45,221.61 83.90,225.02 84.35,224.00 84.80,222.05 85.25,223.87 85.70,220.80 86.15,224.76 86.60,220.84 87.05,223.19 87.50,224.66 87.95,223.47 88.40,225.17 88.85,222.13 89.30,224.48 89.75,221.11 90.20,222.76 90.65,223.92 91.10,224.56 91.55,222.65 92.00,224.74 92.45,221.25 92.90,225.21 93.35,223.15 93.80,222.99 94.25,224.43 94.70,221.79 95.15,223.83 95.60,222.39 96.05,222.86 96.50,224.22 96.95,223.80 97.40,225.40 97.85,224.92 98.30,221.37 98.75,224.16 99.20,222.36 99.65,225.28 100.10,222.89 100.55,223.95 101.00,223.22 101.45,224.29 101.90,225.40 102.35,224.22 102.80,224.66 103.25,225.19 103.70,222.08 104.15,224.37 104.60,223.73 105.05,221.06 105.50,221.77 105.95,221.20 106.40,221.31 106.85,225.16 107.30,224.40 107.75,225.40 108.20,222.27 108.65,222.36 109.10,224.00 109.55,223.68 110.00,222.38 110.45,222.17 110.90,224.55 111.35,221.39 111.80,224.00 112.25,222.54 112.70,224.90 113.15,225.25 113.60,221.04 114.05,221.98 114.50,222.10 114.95,225.40 115.40,225.40 115.85,225.00 116.30,224.81 116.75,224.26 117.20,223.85 117.65,225.40 118.10,224.22 118.55,222.49 119.00,224.91 119.45,221.43 119.90,222.85 120.35,222.08 120.80,224.51 121.25,223.56 121.70,222.25 122.15,224.02 122.60,225.40 123.05,221.46 123.50,221.76 123.95,224.35 124.40,225.40 124.85,221.35 125.30,222.65 125.75,225.40 126.20,224.57 126.65,225.27 127.10,221.68 127.55,224.75 128.00,221.03 128.45,221.90 128.90,225.40 129.35,222.19 129.80,223.78 130.25,221.91 130.70,221.48 131.15,224.37 131.60,225.38 132.05,220.86 132.50,223.62 132.95,220.95 133.40,222.21 133.85,221.96 134.30,221.48 134.75,222.54 135.20,223.47 135.65,225.40 136.10,222.17 136.55,223.60 137.00,223.16 137.45,220.96 137.90,225.19 138.35,221.84 138.80,225.40 139.25,222.15 139.70,221.61 140.15,224.48 140.60,222.97 141.05,220.74 141.50,222.49 141.95,222.99 142.40,224.54 142.85,225.40 143.30,223.97 143.75,223.69 144.20,224.80 144.65,224.22 145.10,225.14 145.55,222.13 146.00,222.32 146.45,224.60 146.90,224.58 147.35,223.14 147.80,223.51 148.25,220.92 148.70,224.00 149.15,224.28 149.60,221.19 150.05,225.11 150.50,222.89 150.95,224.10 151.40,221.55 151.85,222.97 152.30,221.84 152.75,224.97 153.20,222.34 153.65,222.70 154.10,223.42 154.55,221.81 155.00,221.47 155.45,225.25 155.90,224.33 156.35,223.96 156.80,224.77 157.25,225.40 157.70,224.38 158.15,224.82 158.60,222.16 159.05,223.49 159.50,225.26 159.95,224.15 160.40,223.39 160.85,223.94 161.30,224.97 161.75,225.40 162.20,225.40 162.65,220.62 163.10,221.90 163.55,225.40 164.00,222.07 164.45,220.68 164.90,222.88 165.35,225.28 165.80,223.28 166.25,223.57 166.70,224.86 167.15,222.99 167.60,225.40 168.05,221.01 168.50,222.46 168.95,222.55 169.40,220.92 169.85,222.41 170.30,224.53 170.75,224.56 171.20,225.13 171.65,225.40 172.10,221.77 172.55,221.43 173.00,224.29 173.45,224.88 173.90,222.49 174.35,221.39 174.80,220.97 175.25,224.97 175.70,221.72 176.15,221.48 176.60,221.94 177.05,224.13 177.50,224.88 177.95,221.50 178.40,224.17 178.85,223.91 179.30,222.95 179.75,223.91 180.20,221.47 180.65,224.60 181.10,225.40 181.55,222.87 182.00,222.54 182.45,221.53 182.90,222.13 183.35,221.08 183.80,220.87 184.25,223.25 184.70,223.22 185.15,225.03 185.60,224.28 186.05,222.79 186.50,225.40 186.95,222.23 187.40,225.00 187.85,223.52 188.30,220.74 188.75,225.39 189.20,225.40 189.65,223.54 190.10,224.85 190.55,222.04 191.00,225.40 191.45,221.42 191.90,221.34 192.35,221.71 192.80,223.61 193.25,224.36 193.70,222.37 194.15,223.14 194.60,223.64 195.05,224.07 195.50,223.54 195.95,222.34 196.40,221.50 196.85,221.09 197.30,224.99 197.75,224.30 198.20,223.52 198.65,222.89 199.10,224.02 199.55,224.83 200.00,225.40 200.45,224.15 200.90,223.43 201.35,220.73 201.80,221.06 202.25,221.29 202.70,220.72 203.15,220.78 203.60,222.59 204.05,221.58 204.50,225.40 204.95,222.29 205.40,222.64 205.85,224.29 206.30,222.84 206.75,220.83 207.20,223.32 207.65,222.44 208.10,224.28 208.55,224.05 209.00,221.19 209.45,225.40 209.90,224.86 210.35,222.28 210.80,223.50 211.25,225.40 211.70,222.37 212.15,223.90 212.60,222.79 213.05,223.66 213.50,223.06 213.95,222.88 214.40,223.77 214.85,225.26 215.30,224.91 215.75,221.16 216.20,222.97 216.65,225.27 217.10,221.31 217.55,224.52 218.00,225.36 218.45,223.06 218.90,224.53 219.35,223.28 219.80,222.93 220.25,224.66 220.70,222.84 221.15,225.26 221.60,223.15 222.05,222.75 222.50,225.40 222.95,223.71 223.40,225.40 223.85,223.54 224.30,221.30 224.75,222.95 225.20,222.09 225.65,221.86 226.10,225.25 226.55,220.63 227.00,222.05 227.45,225.32 227.90,221.48 228.35,223.79 228.80,224.96 229.25,220.79 229.70,222.89 230.15,221.77 230.60,225.14 231.05,221.76 231.50,225.40 231.95,224.61 232.40,223.89 232.85,225.40 233.30,222.72 233.75,224.73 234.20,224.28 234.65,222.12 235.10,223.61 235.55,221.17 236.00,222.58 236.45,221.26 236.90,222.89 237.35,221.02 237.80,221.26 238.25,224.97 238.70,221.92 239.15,224.06 239.60,221.83 240.05,222.27 240.50,221.50 240.95,225.21 241.40,223.89 241.85,221.97 242.30,220.85 242.75,222.05 243.20,225.40 243.65,222.67 244.10,225.33 244.55,222.96 245.00,221.62 245.45,225.26 245.90,220.97 246.35,222.29 246.80,224.52 247.25,224.84 247.70,223.50 248.15,221.43 248.60,222.79 249.05,225.26 249.50,225.40 249.95,225.28 250.40,221.63 250.85,224.88 251.30,222.93 251.75,224.33 252.20,222.23 252.65,223.85 253.10,225.10 253.55,221.24 254.00,223.02 254.45,222.22 254.90,221.59 255.35,220.85 255.80,225.40 256.25,224.05 256.70,225.06 257.15,223.21 257.60,221.25 258.05,221.63 258.50,225.40 258.95,224.90 259.40,221.54 259.85,222.27 260.30,223.79 260.75,223.35 261.20,225.02 261.65,221.40 262.10,223.78 262.55,221.25 263.00,222.63 263.45,225.40 263.90,224.12 264.35,224.72 264.80,221.14 265.25,222.75 265.70,225.40 266.15,224.96 266.60,223.95 267.05,223.39 267.50,222.81 267.95,223.81 268.40,223.99 268.85,225.40 269.30,222.80 269.75,224.10 270.20,225.40 270.65,223.43 271.10,220.65 271.55,225.40 272.00,225.09 272.45,222.32 272.90,224.42 273.35,224.42 273.80,223.22 274.25,224.48 274.70,222.86 275.15,223.07 275.60,220.81 276.05,220.62 276.50,225.40 276.95,222.90 277.40,221.79 277.85,221.25 278.30,221.77 278.75,222.52 279.20,222.51 279.65,223.94 280.10,224.37 280.55,221.66 281.00,221.25 281.45,220.90 281.90,222.26 282.35,224.25 282.80,221.83 283.25,221.96 283.70,223.17 284.15,222.51 284.60,224.01 285.05,222.95 285.50,223.72 285.95,225.40 286.40,224.08 286.85,224.15 287.30,220.64 287.75,223.32 288.20,223.92 288.65,224.57 289.10,224.62 289.55,224.02 290.00,225.14 290.45,225.40 290.90,221.26 291.35,223.47 291.80,223.51 292.25,222.86 292.70,224.26 293.15,224.97 293.60,225.40 294.05,224.27 294.50,224.23 294.95,222.02 295.40,222.95 295.85,220.91 296.30,224.06 296.75,221.00 297.20,222.78 297.65,225.40 298.10,224.92 298.55,222.79 299.00,220.65 299.45,223.97 299.90,221.77 300.35,223.60 300.80,221.28 301.25,225.40 301.70,223.30 302.15,221.11 302.60,224.40 303.05,224.50 303.50,225.40 303.75,224.99 304.00,224.44 304.25,222.14 304.50,224.71 304.75,223.75 305.00,224.80 305.25,222.68 305.50,221.30 305.75,222.44 306.00,224.82 306.25,221.99 306.50,220.78 306.75,222.69 307.00,222.06 307.25,220.36 307.50,218.66 307.75,213.73 308.00,208.64 308.25,198.34 308.50,186.55 308.75,172.44 309.00,158.35 309.25,144.28 309.50,130.25 309.75,116.80 310.00,103.98 310.25,91.28 310.50,79.55 310.75,68.91 311.00,60.29 311.25,55.17 311.50,57.58 311.75,65.26 312.00,75.03 312.25,86.46 312.50,98.88 312.75,111.66 313.00,124.65 313.25,138.66 313.50,152.71 313.75,166.80 314.00,180.90 314.25,194.10 314.50,204.70 314.75,211.69 315.00,216.79 315.25,219.68 315.50,221.38 315.75,223.08 316.00,224.78 316.25,221.81 316.50,225.38 316.75,221.56 317.00,223.62 317.25,223.02 317.50,222.75 317.75,222.93 318.00,222.39 318.25,222.68 318.50,224.11 318.75,221.95 319.00,224.50 319.25,222.10 319.50,221.83 319.95,221.76 320.40,224.23 320.85,221.78 321.30,220.70 321.75,223.47 322.20,224.39 322.65,223.10 323.10,220.89 323.55,225.16 324.00,225.40 324.45,223.35 324.90,222.40 325.35,221.77 325.80,223.95 326.25,220.64 326.70,224.65 327.15,221.87 327.60,225.38 328.05,225.40 328.50,225.15 328.95,225.40 329.40,223.21 329.85,222.93 330.30,224.90 330.75,220.90 331.20,223.93 331.65,225.07 332.10,224.92 332.55,221.96 333.00,221.00 333.45,225.00 333.90,225.40 334.35,221.75 334.80,224.58 335.25,220.67 335.70,223.23 336.15,222.50"/>
<rect x="38.50" y="221.50" width="9.20" height="3.21" fill="#ff22ff"/>
<rect x="58.70" y="221.50" width="240.90" height="3.21" fill="#ff22ff"/>
<rect x="310.60" y="221.50" width="26.40" height="3.21" fill="#ff22ff"/>
<polyline fill="none" stroke="#ff22ff" stroke-width="1.25" stroke-linejoin="round" points="39.10,223.48 39.40,221.70 39.70,223.03 40.00,223.56 40.30,221.30 40.60,224.41 40.90,221.96 41.20,224.57 41.50,222.31 41.80,223.26 42.10,221.46 42.40,224.59 42.70,222.63 43.00,223.23 43.30,221.24 43.60,221.14 43.90,222.38 44.20,223.95 44.50,223.84 44.80,223.80 45.10,223.13 45.40,223.92 45.65,224.03 45.90,221.86 46.15,222.32 46.40,222.24 46.65,220.95 46.90,220.65 47.15,219.80 47.40,218.68 47.65,217.55 47.90,216.43 48.15,215.31 48.40,213.32 48.65,209.82 48.90,206.33 49.15,202.84 49.40,194.71 49.65,185.10 49.90,175.48 50.15,164.66 50.40,153.78 50.65,142.94 50.90,132.33 51.15,121.73 51.40,111.16 51.65,100.53 51.90,89.96 52.15,79.49 52.40,70.05 52.65,60.72 52.90,51.13 53.15,45.44 53.40,48.11 53.65,56.66 53.90,66.44 54.15,75.58 54.40,85.75 54.65,96.29 54.90,106.91 55.15,117.50 55.40,128.09 55.65,138.69 55.90,149.43 56.15,160.31 56.40,171.19 56.65,181.25 56.90,190.87 57.15,200.49 57.40,204.93 57.65,208.43 57.90,211.92 58.15,214.86 58.40,215.98 58.65,217.10 58.90,218.23 59.15,219.35 59.40,220.34 59.65,221.13 59.90,221.92 60.15,220.96 60.40,223.51 60.65,221.40 60.90,224.36 61.15,222.92 61.40,224.30 61.70,223.15 62.00,224.13 62.30,222.15 62.60,224.25 62.90,221.95 63.20,222.87 63.50,224.39 63.80,223.45 64.10,222.89 64.40,221.24 64.70,223.46 65.00,223.99 65.30,221.05 65.60,221.38 65.90,221.97 66.20,223.76 66.50,224.13 66.80,223.79 67.10,224.56 67.40,224.66 67.70,222.84 68.00,223.23 68.30,222.65 68.60,223.41 68.90,224.78 69.20,222.14 69.50,222.28 69.80,222.70 70.10,222.69 70.40,222.13 70.70,220.99 71.00,221.42 71.30,222.03 71.60,223.27 71.90,223.58 72.20,223.19 72.50,221.03 72.80,223.32 73.10,223.32 73.40,223.23 73.70,224.27 74.00,220.93 74.30,224.81 74.60,222.45 74.90,221.21 75.20,223.83 75.50,222.44 75.80,223.36 76.10,223.89 76.40,224.05 76.70,224.37 77.00,221.54 77.30,221.77 77.60,221.28 77.90,224.63 78.20,222.12 78.50,223.56 78.80,222.31 79.10,222.68 79.40,223.59 79.70,221.04 80.00,224.82 80.30,221.91 80.60,221.50 80.90,222.84 81.20,222.52 81.50,220.95 81.80,223.91 82.10,222.37 82.40,221.93 82.70,223.35 83.00,222.05 83.30,223.29 83.60,222.77 83.90,222.44 84.20,222.18 84.50,223.57 84.80,222.37 85.10,222.71 85.40,223.96 85.70,222.44 86.00,223.79 86.30,221.28 86.60,222.98 86.90,222.01 87.20,222.79 87.50,222.97 87.80,223.96 88.10,224.27 88.40,221.21 88.70,222.76 89.00,222.78 89.30,222.77 89.60,221.65 89.90,223.90 90.20,224.15 90.50,221.62 90.80,223.03 91.10,222.33 91.40,221.60 91.70,221.34 92.00,221.44 92.30,224.66 92.60,223.34 92.90,221.58 93.20,221.64 93.50,224.35 93.80,224.23 94.10,223.85 94.40,224.43 94.70,223.43 95.00,221.69 95.30,222.79 95.60,223.06 95.90,224.48 96.20,223.28 96.50,220.94 96.80,222.11 97.10,223.07 97.40,222.96 97.70,221.71 98.00,221.87 98.30,224.24 98.60,222.17 98.90,223.39 99.20,222.79 99.50,223.90 99.80,223.38 100.10,223.50 100.40,223.34 100.70,224.76 101.00,224.04 101.30,222.60 101.60,224.60 101.90,224.13 102.20,222.02 102.50,223.75 102.80,223.56 103.10,223.88 103.40,221.57 103.70,224.47 104.00,222.34 104.30,221.48 104.60,224.04 104.90,223.18 105.20,221.74 105.50,222.42 105.80,223.38 106.10,224.65 106.40,223.10 106.70,223.39 107.00,222.05 107.30,223.67 107.60,223.23 107.90,222.30 108.20,221.66 108.50,223.45 108.80,223.32 109.10,222.57 109.40,221.22 109.70,224.08 110.00,221.04 110.30,222.05 110.60,223.37 110.90,222.23 111.20,223.54 111.50,224.55 111.80,221.88 112.10,223.35 112.40,222.77 112.70,222.89 113.00,221.31 113.30,221.87 113.60,224.73 113.90,222.51 114.20,223.02 114.50,223.02 114.80,221.55 115.10,223.21 115.40,222.98 115.70,221.35 116.00,223.11 116.30,222.91 116.60,222.83 116.90,221.61 117.20,222.21 117.50,221.94 117.80,223.26 118.10,224.67 118.40,222.17 118.70,222.67 119.00,221.83 119.30,221.82 119.60,224.37 119.90,223.97 120.20,224.53 120.50,221.64 120.80,224.43 121.10,224.48 121.40,221.89 121.70,222.62 122.00,224.61 122.30,222.17 122.60,222.05 122.90,222.94 123.20,224.61 123.50,222.13 123.80,223.20 124.10,222.55 124.40,220.93 124.70,221.64 125.00,221.42 125.30,224.26 125.60,223.52 125.90,222.80 126.20,224.80 126.50,220.97 126.80,223.75 127.10,223.80 127.40,223.60 127.70,223.83 128.00,221.48 128.30,222.66 128.60,222.83 128.90,223.19 129.20,224.63 129.50,223.64 129.80,221.44 130.10,221.70 130.40,221.48 130.70,223.82 131.00,224.04 131.30,224.62 131.60,222.73 131.90,223.37 132.20,223.02 132.50,222.92 132.80,222.55 133.10,223.40 133.40,221.70 133.70,224.04 134.00,221.24 134.30,222.66 134.60,224.63 134.90,223.60 135.20,222.75 135.50,223.23 135.80,222.62 136.10,223.56 136.40,223.76 136.70,221.72 137.00,223.69 137.30,222.05 137.60,221.70 137.90,222.52 138.20,223.05 138.50,221.18 138.80,223.09 139.10,221.40 139.40,224.60 139.70,223.13 140.00,222.33 140.30,224.64 140.60,221.46 140.90,224.55 141.20,222.50 141.50,224.12 141.80,221.23 142.10,222.64 142.40,221.70 142.70,222.88 143.00,222.20 143.30,222.19 143.60,223.68 143.90,224.00 144.20,221.56 144.50,224.26 144.80,221.25 145.10,224.02 145.40,224.43 145.70,224.45 146.00,221.77 146.30,221.12 146.60,223.21 146.90,222.26 147.20,223.82 147.50,221.29 147.80,222.15 148.10,224.22 148.40,224.61 148.70,222.11 149.00,224.66 149.30,221.56 149.60,223.68 149.90,223.92 150.20,222.56 150.50,223.58 150.80,222.64 151.10,224.23 151.40,221.27 151.70,223.56 152.00,221.54 152.30,224.23 152.60,221.71 152.90,221.00 153.20,223.30 153.50,224.70 153.80,223.34 154.10,222.33 154.40,223.95 154.70,222.70 155.00,224.46 155.30,223.01 155.60,221.99 155.90,223.15 156.20,222.18 156.50,224.38 156.80,221.59 157.10,224.35 157.40,221.22 157.70,220.94 158.00,221.16 158.30,222.77 158.60,223.69 158.90,223.47 159.20,221.90 159.50,222.89 159.80,221.20 160.10,224.46 160.40,222.94 160.70,221.46 161.00,222.49 161.30,222.72 161.60,224.48 161.90,224.28 162.20,223.77 162.50,221.34 162.80,221.53 163.10,223.94 163.40,221.22 163.70,224.70 164.00,222.49 164.30,221.05 164.60,223.48 164.90,221.14 165.20,222.26 165.50,224.63 165.80,223.53 166.10,223.07 166.40,223.86 166.70,221.93 167.00,224.13 167.30,221.75 167.60,223.66 167.90,224.56 168.20,222.64 168.50,224.45 168.80,222.67 169.10,221.75 169.40,222.50 169.70,223.03 170.00,224.69 170.30,222.82 170.60,224.45 170.90,222.30 171.20,224.31 171.50,222.57 171.80,223.45 172.10,223.36 172.40,222.24 172.70,224.19 173.00,224.16 173.30,221.15 173.60,223.53 173.90,221.54 174.20,221.42 174.50,222.95 174.80,224.24 175.10,224.46 175.40,221.40 175.70,224.37 176.00,222.89 176.30,222.74 176.60,224.37 176.90,223.00 177.20,224.19 177.50,222.74 177.80,222.85 178.10,223.39 178.40,224.05 178.70,223.25 179.00,224.03 179.30,224.33 179.60,223.89 179.90,221.43 180.20,222.87 180.50,221.35 180.80,224.77 181.10,221.15 181.40,222.92 181.70,221.74 182.00,222.60 182.30,222.14 182.60,223.93 182.90,221.90 183.20,224.23 183.50,223.80 183.80,224.71 184.10,223.29 184.40,222.80 184.70,223.69 185.00,221.35 185.30,224.50 185.60,222.57 185.90,223.91 186.20,222.50 186.50,221.77 186.80,222.05 187.10,224.58 187.40,223.87 187.70,222.49 188.00,220.99 188.30,224.67 188.60,222.41 188.90,222.13 189.20,221.65 189.50,223.49 189.80,221.66 190.10,223.02 190.40,221.23 190.70,224.78 191.00,221.16 191.30,223.22 191.60,223.24 191.90,224.48 192.20,223.87 192.50,221.96 192.80,222.18 193.10,224.24 193.40,223.48 193.70,224.28 194.00,224.05 194.30,223.97 194.60,223.53 194.90,221.02 195.20,220.94 195.50,221.74 195.80,222.95 196.10,222.89 196.40,221.79 196.70,221.28 197.00,221.89 197.30,222.34 197.60,224.05 197.90,222.39 198.20,221.53 198.50,221.76 198.80,224.47 199.10,222.03 199.40,223.46 199.70,224.19 200.00,221.06 200.30,222.20 200.60,221.92 200.90,224.30 201.20,221.59 201.50,221.17 201.80,221.30 202.10,221.92 202.40,221.58 202.70,221.70 203.00,222.52 203.30,223.13 203.60,221.61 203.90,221.77 204.20,221.43 204.50,223.66 204.80,221.08 205.10,222.75 205.40,221.14 205.70,224.37 206.00,221.05 206.30,221.75 206.60,223.84 206.90,221.56 207.20,223.92 207.50,224.05 207.80,223.04 208.10,223.90 208.40,222.90 208.70,221.28 209.00,222.15 209.30,222.05 209.60,223.30 209.90,221.77 210.20,221.73 210.50,222.16 210.80,221.15 211.10,221.60 211.40,223.24 211.70,224.49 212.00,222.28 212.30,221.56 212.60,223.50 212.90,222.51 213.20,221.56 213.50,221.73 213.80,224.81 214.10,222.92 214.40,224.76 214.70,224.39 215.00,221.66 215.30,223.19 215.60,222.47 215.90,223.04 216.20,223.52 216.50,223.99 216.80,223.45 217.10,221.53 217.40,222.41 217.70,223.69 218.00,224.48 218.30,223.77 218.60,222.09 218.90,223.10 219.20,222.25 219.50,221.68 219.80,224.36 220.10,222.16 220.40,224.66 220.70,221.62 221.00,224.11 221.30,223.77 221.60,221.09 221.90,223.41 222.20,223.95 222.50,221.35 222.80,222.45 223.10,221.34 223.40,223.29 223.70,222.88 224.00,221.10 224.30,222.85 224.60,220.97 224.90,224.09 225.20,221.59 225.50,224.19 225.80,222.77 226.10,224.82 226.40,224.14 226.70,221.14 227.00,223.05 227.30,221.67 227.60,223.85 227.90,223.45 228.20,224.43 228.50,222.67 228.80,221.46 229.10,222.82 229.40,223.36 229.70,221.20 230.00,221.34 230.30,222.23 230.60,224.53 230.90,222.39 231.20,223.09 231.50,221.09 231.80,223.41 232.10,222.25 232.40,222.36 232.70,223.36 233.00,222.79 233.30,222.19 233.60,221.29 233.90,222.88 234.20,223.41 234.50,221.02 234.80,224.60 235.10,221.57 235.40,222.16 235.70,222.65 236.00,223.08 236.30,221.90 236.60,221.35 236.90,221.98 237.20,221.90 237.50,224.69 237.80,223.56 238.10,224.29 238.40,221.11 238.70,221.35 239.00,224.26 239.30,222.53 239.60,222.58 239.90,224.64 240.20,223.30 240.50,221.91 240.80,222.32 241.10,223.73 241.40,221.85 241.70,223.69 242.00,222.70 242.30,223.18 242.60,221.01 242.90,222.29 243.20,221.69 243.50,222.19 243.80,223.34 244.10,221.07 244.40,222.06 244.70,222.13 245.00,223.74 245.30,224.19 245.60,222.58 245.90,221.60 246.20,221.73 246.50,223.47 246.80,224.28 247.10,222.81 247.40,221.40 247.70,224.19 248.00,221.95 248.30,224.16 248.60,223.61 248.90,224.62 249.20,223.67 249.50,223.33 249.80,221.05 250.10,221.07 250.40,224.10 250.70,223.62 251.00,221.14 251.30,224.06 251.60,223.57 251.90,223.12 252.20,224.40 252.50,223.81 252.80,223.29 253.10,223.32 253.40,221.07 253.70,223.79 254.00,224.03 254.30,221.28 254.60,223.07 254.90,221.56 255.20,222.34 255.50,221.79 255.80,223.60 256.10,224.23 256.40,221.87 256.70,222.99 257.00,222.65 257.30,222.21 257.60,221.89 257.90,223.75 258.20,223.41 258.50,221.25 258.80,222.76 259.10,223.70 259.40,222.37 259.70,223.81 260.00,221.82 260.30,224.67 260.60,221.60 260.90,222.62 261.20,223.45 261.50,221.16 261.80,223.79 262.10,223.88 262.40,224.55 262.70,222.69 263.00,221.89 263.30,222.18 263.60,223.22 263.90,221.67 264.20,224.39 264.50,223.63 264.80,222.31 265.10,221.05 265.40,222.35 265.70,222.13 266.00,221.80 266.30,223.29 266.60,221.16 266.90,221.93 267.20,223.49 267.50,223.29 267.80,221.68 268.10,223.46 268.40,224.10 268.70,221.43 269.00,222.75 269.30,222.79 269.60,222.21 269.90,221.31 270.20,224.31 270.50,223.50 270.80,224.57 271.10,223.21 271.40,222.87 271.70,221.50 272.00,222.22 272.30,222.57 272.60,223.25 272.90,222.59 273.20,223.76 273.50,221.53 273.80,221.75 274.10,221.56 274.40,224.24 274.70,222.21 275.00,221.88 275.30,222.87 275.60,221.32 275.90,221.32 276.20,221.93 276.50,221.62 276.80,222.29 277.10,221.40 277.40,224.31 277.70,222.08 278.00,222.08 278.30,222.44 278.60,223.75 278.90,224.56 279.20,222.47 279.50,221.61 279.80,223.76 280.10,223.99 280.40,223.95 280.70,224.46 281.00,222.19 281.30,221.02 281.60,221.70 281.90,223.42 282.20,222.10 282.50,224.54 282.80,221.55 283.10,223.56 283.40,224.81 283.70,222.37 284.00,224.28 284.30,223.75 284.60,224.60 284.90,223.09 285.20,222.66 285.50,221.68 285.80,224.67 286.10,221.60 286.40,224.39 286.70,223.95 287.00,222.37 287.30,223.50 287.60,223.53 287.90,222.61 288.20,223.98 288.50,221.73 288.80,224.01 289.10,221.55 289.40,221.67 289.70,222.73 290.00,224.71 290.30,221.79 290.60,224.72 290.90,222.86 291.20,223.17 291.50,224.58 291.80,222.37 292.10,222.00 292.40,222.54 292.70,223.27 293.00,222.83 293.30,222.53 293.60,223.94 293.90,221.44 294.20,220.94 294.50,221.69 294.80,221.08 295.10,223.54 295.40,220.98 295.70,224.55 296.00,222.96 296.30,224.30 296.60,223.06 296.90,222.16 297.20,222.06 297.45,223.05 297.70,223.49 297.95,224.09 298.20,223.25 298.45,223.72 298.70,224.07 298.95,221.95 299.20,222.81 299.45,223.11 299.70,224.05 299.95,222.08 300.20,224.06 300.45,223.79 300.70,222.29 300.95,220.30 301.20,218.30 301.45,214.11 301.70,208.15 301.95,198.66 302.20,186.24 302.45,169.95 302.70,153.43 302.95,136.94 303.20,120.48 303.45,104.19 303.70,89.12 303.95,74.18 304.20,59.89 304.45,46.61 304.70,35.72 304.95,27.50 305.20,26.55 305.45,33.77 305.70,44.24 305.95,57.19 306.20,71.21 306.45,86.12 306.70,101.17 306.95,117.19 307.20,133.64 307.45,150.13 307.70,166.65 307.95,183.19 308.20,196.17 308.45,206.95 308.70,212.92 308.95,217.91 309.20,219.90 309.45,221.62 309.70,223.88 309.95,224.40 310.20,222.63 310.45,222.84 310.70,224.01 310.95,223.84 311.20,224.74 311.45,221.28 311.70,222.06 311.95,221.14 312.20,221.00 312.45,223.12 312.70,221.97 312.95,223.33 313.20,221.66 313.50,221.54 313.80,224.30 314.10,224.78 314.40,223.99 314.70,222.54 315.00,223.35 315.30,224.79 315.60,221.59 315.90,221.76 316.20,223.02 316.50,224.66 316.80,221.36 317.10,222.74 317.40,224.55 317.70,223.56 318.00,222.39 318.30,221.37 318.60,222.94 318.90,222.33 319.20,224.02 319.50,223.88 319.80,221.29 320.10,223.33 320.40,224.42 320.70,222.52 321.00,224.33 321.30,224.05 321.60,223.05 321.90,222.54 322.20,222.34 322.50,222.07 322.80,223.11 323.10,224.56 323.40,222.00 323.70,224.62 324.00,222.99 324.30,223.26 324.60,222.20 324.90,222.04 325.20,223.89 325.50,222.29 325.80,222.13 326.10,222.99 326.40,224.27 326.70,221.28 327.00,222.49 327.30,224.58 327.60,223.90 327.90,220.98 328.20,223.93 328.50,223.30 328.80,221.75 329.10,221.61 329.40,222.35 329.70,221.93 330.00,224.68 330.30,224.46 330.60,221.02 330.90,221.69 331.20,224.68 331.50,224.64 331.80,223.89 332.10,221.20 332.40,223.97 332.70,222.20 333.00,221.20 333.30,222.33 333.60,221.24 333.90,223.80 334.20,224.23 334.50,224.76 334.80,221.87 335.10,224.42 335.40,221.03 335.70,222.06 336.00,224.10 336.30,221.68"/>
</g>
<rect x="38.5" y="7.4" width="298.5" height="219.0" fill="none" stroke="#2a2a2a" stroke-width="1.2"/>
<line x1="33.90" y1="225.40" x2="38.50" y2="225.40" stroke="#2a2a2a" stroke-width="1.2"/>
<line x1="332.80" y1="225.40" x2="337.00" y2="225.40" stroke="#2a2a2a" stroke-width="1.2"/>
<text x="30.60" y="227.50" font-size="8.8" text-anchor="end" fill="#222" stroke="#222" stroke-width="0.15" >0.0</text>
<line x1="36.30" y1="213.93" x2="38.50" y2="213.93" stroke="#2a2a2a" stroke-width="1.2"/>
<line x1="334.40" y1="213.93" x2="337.00" y2="213.93" stroke="#2a2a2a" stroke-width="1.2"/>
<line x1="33.90" y1="202.45" x2="38.50" y2="202.45" stroke="#2a2a2a" stroke-width="1.2"/>
<line x1="332.80" y1="202.45" x2="337.00" y2="202.45" stroke="#2a2a2a" stroke-width="1.2"/>
<text x="30.60" y="204.55" font-size="8.8" text-anchor="end" fill="#222" stroke="#222" stroke-width="0.15" >0.2</text>
<line x1="36.30" y1="190.97" x2="38.50" y2="190.97" stroke="#2a2a2a" stroke-width="1.2"/>
<line x1="334.40" y1="190.97" x2="337.00" y2="190.97" stroke="#2a2a2a" stroke-width="1.2"/>
<line x1="33.90" y1="179.50" x2="38.50" y2="179.50" stroke="#2a2a2a" stroke-width="1.2"/>
<line x1="332.80" y1="179.50" x2="337.00" y2="179.50" stroke="#2a2a2a" stroke-width="1.2"/>
<text x="30.60" y="181.60" font-size="8.8" text-anchor="end" fill="#222" stroke="#222" stroke-width="0.15" >0.4</text>
<line x1="36.30" y1="168.03" x2="38.50" y2="168.03" stroke="#2a2a2a" stroke-width="1.2"/>
<line x1="334.40" y1="168.03" x2="337.00" y2="168.03" stroke="#2a2a2a" stroke-width="1.2"/>
<line x1="33.90" y1="156.55" x2="38.50" y2="156.55" stroke="#2a2a2a" stroke-width="1.2"/>
<line x1="332.80" y1="156.55" x2="337.00" y2="156.55" stroke="#2a2a2a" stroke-width="1.2"/>
<text x="30.60" y="158.65" font-size="8.8" text-anchor="end" fill="#222" stroke="#222" stroke-width="0.15" >0.6</text>
<line x1="36.30" y1="145.07" x2="38.50" y2="145.07" stroke="#2a2a2a" stroke-width="1.2"/>
<line x1="334.40" y1="145.07" x2="337.00" y2="145.07" stroke="#2a2a2a" stroke-width="1.2"/>
<line x1="33.90" y1="133.60" x2="38.50" y2="133.60" stroke="#2a2a2a" stroke-width="1.2"/>
<line x1="332.80" y1="133.60" x2="337.00" y2="133.60" stroke="#2a2a2a" stroke-width="1.2"/>
<text x="30.60" y="135.70" font-size="8.8" text-anchor="end" fill="#222" stroke="#222" stroke-width="0.15" >0.8</text>
<line x1="36.30" y1="122.12" x2="38.50" y2="122.12" stroke="#2a2a2a" stroke-width="1.2"/>
<line x1="334.40" y1="122.12" x2="337.00" y2="122.12" stroke="#2a2a2a" stroke-width="1.2"/>
<line x1="33.90" y1="110.65" x2="38.50" y2="110.65" stroke="#2a2a2a" stroke-width="1.2"/>
<line x1="332.80" y1="110.65" x2="337.00" y2="110.65" stroke="#2a2a2a" stroke-width="1.2"/>
<text x="30.60" y="112.75" font-size="8.8" text-anchor="end" fill="#222" stroke="#222" stroke-width="0.15" >1.0</text>
<line x1="36.30" y1="99.17" x2="38.50" y2="99.17" stroke="#2a2a2a" stroke-width="1.2"/>
<line x1="334.40" y1="99.17" x2="337.00" y2="99.17" stroke="#2a2a2a" stroke-width="1.2"/>
<line x1="33.90" y1="87.70" x2="38.50" y2="87.70" stroke="#2a2a2a" stroke-width="1.2"/>
<line x1="332.80" y1="87.70" x2="337.00" y2="87.70" stroke="#2a2a2a" stroke-width="1.2"/>
<text x="30.60" y="89.80" font-size="8.8" text-anchor="end" fill="#222" stroke="#222" stroke-width="0.15" >1.2</text>
<line x1="36.30" y1="76.22" x2="38.50" y2="76.22" stroke="#2a2a2a" stroke-width="1.2"/>
<line x1="334.40" y1="76.22" x2="337.00" y2="76.22" stroke="#2a2a2a" stroke-width="1.2"/>
<line x1="33.90" y1="64.75" x2="38.50" y2="64.75" stroke="#2a2a2a" stroke-width="1.2"/>
<line x1="332.80" y1="64.75" x2="337.00" y2="64.75" stroke="#2a2a2a" stroke-width="1.2"/>
<text x="30.60" y="66.85" font-size="8.8" text-anchor="end" fill="#222" stroke="#222" stroke-width="0.15" >1.4</text>
<line x1="36.30" y1="53.28" x2="38.50" y2="53.28" stroke="#2a2a2a" stroke-width="1.2"/>
<line x1="334.40" y1="53.28" x2="337.00" y2="53.28" stroke="#2a2a2a" stroke-width="1.2"/>
<line x1="33.90" y1="41.80" x2="38.50" y2="41.80" stroke="#2a2a2a" stroke-width="1.2"/>
<line x1="332.80" y1="41.80" x2="337.00" y2="41.80" stroke="#2a2a2a" stroke-width="1.2"/>
<text x="30.60" y="43.90" font-size="8.8" text-anchor="end" fill="#222" stroke="#222" stroke-width="0.15" >1.6</text>
<line x1="36.30" y1="30.32" x2="38.50" y2="30.32" stroke="#2a2a2a" stroke-width="1.2"/>
<line x1="334.40" y1="30.32" x2="337.00" y2="30.32" stroke="#2a2a2a" stroke-width="1.2"/>
<line x1="33.90" y1="18.85" x2="38.50" y2="18.85" stroke="#2a2a2a" stroke-width="1.2"/>
<line x1="332.80" y1="18.85" x2="337.00" y2="18.85" stroke="#2a2a2a" stroke-width="1.2"/>
<text x="30.60" y="20.95" font-size="8.8" text-anchor="end" fill="#222" stroke="#222" stroke-width="0.15" >1.8</text>
<line x1="47.90" y1="226.40" x2="47.90" y2="231.40" stroke="#2a2a2a" stroke-width="1.2"/>
<line x1="47.90" y1="7.40" x2="47.90" y2="11.80" stroke="#2a2a2a" stroke-width="1.2"/>
<text x="47.90" y="241.30" font-size="8.8" text-anchor="middle" fill="#222" stroke="#222" stroke-width="0.15" >1540</text>
<line x1="66.57" y1="226.40" x2="66.57" y2="229.40" stroke="#2a2a2a" stroke-width="1.2"/>
<line x1="66.57" y1="7.40" x2="66.57" y2="10.40" stroke="#2a2a2a" stroke-width="1.2"/>
<line x1="85.24" y1="226.40" x2="85.24" y2="231.40" stroke="#2a2a2a" stroke-width="1.2"/>
<line x1="85.24" y1="7.40" x2="85.24" y2="11.80" stroke="#2a2a2a" stroke-width="1.2"/>
<text x="85.24" y="241.30" font-size="8.8" text-anchor="middle" fill="#222" stroke="#222" stroke-width="0.15" >1542</text>
<line x1="103.91" y1="226.40" x2="103.91" y2="229.40" stroke="#2a2a2a" stroke-width="1.2"/>
<line x1="103.91" y1="7.40" x2="103.91" y2="10.40" stroke="#2a2a2a" stroke-width="1.2"/>
<line x1="122.58" y1="226.40" x2="122.58" y2="231.40" stroke="#2a2a2a" stroke-width="1.2"/>
<line x1="122.58" y1="7.40" x2="122.58" y2="11.80" stroke="#2a2a2a" stroke-width="1.2"/>
<text x="122.58" y="241.30" font-size="8.8" text-anchor="middle" fill="#222" stroke="#222" stroke-width="0.15" >1544</text>
<line x1="141.25" y1="226.40" x2="141.25" y2="229.40" stroke="#2a2a2a" stroke-width="1.2"/>
<line x1="141.25" y1="7.40" x2="141.25" y2="10.40" stroke="#2a2a2a" stroke-width="1.2"/>
<line x1="159.92" y1="226.40" x2="159.92" y2="231.40" stroke="#2a2a2a" stroke-width="1.2"/>
<line x1="159.92" y1="7.40" x2="159.92" y2="11.80" stroke="#2a2a2a" stroke-width="1.2"/>
<text x="159.92" y="241.30" font-size="8.8" text-anchor="middle" fill="#222" stroke="#222" stroke-width="0.15" >1546</text>
<line x1="178.59" y1="226.40" x2="178.59" y2="229.40" stroke="#2a2a2a" stroke-width="1.2"/>
<line x1="178.59" y1="7.40" x2="178.59" y2="10.40" stroke="#2a2a2a" stroke-width="1.2"/>
<line x1="197.26" y1="226.40" x2="197.26" y2="231.40" stroke="#2a2a2a" stroke-width="1.2"/>
<line x1="197.26" y1="7.40" x2="197.26" y2="11.80" stroke="#2a2a2a" stroke-width="1.2"/>
<text x="197.26" y="241.30" font-size="8.8" text-anchor="middle" fill="#222" stroke="#222" stroke-width="0.15" >1548</text>
<line x1="215.93" y1="226.40" x2="215.93" y2="229.40" stroke="#2a2a2a" stroke-width="1.2"/>
<line x1="215.93" y1="7.40" x2="215.93" y2="10.40" stroke="#2a2a2a" stroke-width="1.2"/>
<line x1="234.60" y1="226.40" x2="234.60" y2="231.40" stroke="#2a2a2a" stroke-width="1.2"/>
<line x1="234.60" y1="7.40" x2="234.60" y2="11.80" stroke="#2a2a2a" stroke-width="1.2"/>
<text x="234.60" y="241.30" font-size="8.8" text-anchor="middle" fill="#222" stroke="#222" stroke-width="0.15" >1550</text>
<line x1="253.27" y1="226.40" x2="253.27" y2="229.40" stroke="#2a2a2a" stroke-width="1.2"/>
<line x1="253.27" y1="7.40" x2="253.27" y2="10.40" stroke="#2a2a2a" stroke-width="1.2"/>
<line x1="271.94" y1="226.40" x2="271.94" y2="231.40" stroke="#2a2a2a" stroke-width="1.2"/>
<line x1="271.94" y1="7.40" x2="271.94" y2="11.80" stroke="#2a2a2a" stroke-width="1.2"/>
<text x="271.94" y="241.30" font-size="8.8" text-anchor="middle" fill="#222" stroke="#222" stroke-width="0.15" >1552</text>
<line x1="290.61" y1="226.40" x2="290.61" y2="229.40" stroke="#2a2a2a" stroke-width="1.2"/>
<line x1="290.61" y1="7.40" x2="290.61" y2="10.40" stroke="#2a2a2a" stroke-width="1.2"/>
<line x1="309.28" y1="226.40" x2="309.28" y2="231.40" stroke="#2a2a2a" stroke-width="1.2"/>
<line x1="309.28" y1="7.40" x2="309.28" y2="11.80" stroke="#2a2a2a" stroke-width="1.2"/>
<text x="309.28" y="241.30" font-size="8.8" text-anchor="middle" fill="#222" stroke="#222" stroke-width="0.15" >1554</text>
<line x1="327.95" y1="226.40" x2="327.95" y2="229.40" stroke="#2a2a2a" stroke-width="1.2"/>
<line x1="327.95" y1="7.40" x2="327.95" y2="10.40" stroke="#2a2a2a" stroke-width="1.2"/>
<text x="186.70" y="254.90" font-size="11" text-anchor="middle" fill="#222" stroke="#222" stroke-width="0.3" >Wavelength (nm)</text>
<text x="0.00" y="0.00" font-size="10.9" text-anchor="middle" fill="#222" stroke="#222" stroke-width="0.3" transform="translate(9.4,119.5) rotate(-90)">Output signal (a.u)</text>
<rect x="193.2" y="6.6" width="67.2" height="65.3" fill="#fff" stroke="#9a9a9a" stroke-width="0.9"/>
<line x1="194.20" y1="12.90" x2="219.20" y2="12.90" stroke="#000000" stroke-width="1.1"/>
<text x="222.00" y="16.90" font-size="10.9" text-anchor="start" fill="#222" stroke="#222" stroke-width="0.2" >40mW</text>
<line x1="194.20" y1="26.40" x2="219.20" y2="26.40" stroke="#cc0000" stroke-width="1.1"/>
<text x="222.00" y="30.40" font-size="10.9" text-anchor="start" fill="#222" stroke="#222" stroke-width="0.2" >60mW</text>
<line x1="194.20" y1="39.90" x2="219.20" y2="39.90" stroke="#2a2ad0" stroke-width="1.1"/>
<text x="222.00" y="43.90" font-size="10.9" text-anchor="start" fill="#222" stroke="#222" stroke-width="0.2" >80mW</text>
<line x1="194.20" y1="53.40" x2="219.20" y2="53.40" stroke="#12b0b0" stroke-width="1.1"/>
<text x="222.00" y="57.40" font-size="10.9" text-anchor="start" fill="#222" stroke="#222" stroke-width="0.2" >100mW</text>
<line x1="194.20" y1="66.90" x2="219.20" y2="66.90" stroke="#ff33ff" stroke-width="1.1"/>
<text x="222.00" y="70.90" font-size="10.9" text-anchor="start" fill="#222" stroke="#222" stroke-width="0.2" >120mW</text>
<text x="0.60" y="13.90" font-size="18.5" text-anchor="start" fill="#000" stroke="#000" stroke-width="0.4" font-weight="bold">a</text>
<polyline fill="none" stroke="#c41414" stroke-width="1.3" points="395.30,223.00 464.74,201.08 534.18,175.86 603.62,149.93 673.06,122.57"/>
<polyline fill="none" stroke="#1c1cc8" stroke-width="1.3" points="395.30,223.00 464.74,172.86 534.18,117.98 603.62,59.24 673.06,19.56"/>
<circle cx="395.30" cy="223.00" r="5.1" fill="#fff"/>
<circle cx="395.30" cy="223.00" r="3.85" fill="url(#gr)"/>
<circle cx="464.74" cy="201.08" r="5.1" fill="#fff"/>
<circle cx="464.74" cy="201.08" r="3.85" fill="url(#gr)"/>
<circle cx="534.18" cy="175.86" r="5.1" fill="#fff"/>
<circle cx="534.18" cy="175.86" r="3.85" fill="url(#gr)"/>
<circle cx="603.62" cy="149.93" r="5.1" fill="#fff"/>
<circle cx="603.62" cy="149.93" r="3.85" fill="url(#gr)"/>
<circle cx="673.06" cy="122.57" r="5.1" fill="#fff"/>
<circle cx="673.06" cy="122.57" r="3.85" fill="url(#gr)"/>
<circle cx="395.30" cy="223.00" r="5.1" fill="#fff"/>
<circle cx="395.30" cy="223.00" r="3.85" fill="url(#gb)"/>
<circle cx="464.74" cy="172.86" r="5.1" fill="#fff"/>
<circle cx="464.74" cy="172.86" r="3.85" fill="url(#gb)"/>
<circle cx="534.18" cy="117.98" r="5.1" fill="#fff"/>
<circle cx="534.18" cy="117.98" r="3.85" fill="url(#gb)"/>
<circle cx="603.62" cy="59.24" r="5.1" fill="#fff"/>
<circle cx="603.62" cy="59.24" r="3.85" fill="url(#gb)"/>
<circle cx="673.06" cy="19.56" r="5.1" fill="#fff"/>
<circle cx="673.06" cy="19.56" r="3.85" fill="url(#gb)"/>
<rect x="385.3" y="8.1" width="298.09999999999997" height="219.4" fill="none" stroke="#2a2a2a" stroke-width="1.2"/>
<line x1="380.70" y1="223.00" x2="385.30" y2="223.00" stroke="#2a2a2a" stroke-width="1.2"/>
<line x1="679.20" y1="223.00" x2="683.40" y2="223.00" stroke="#2a2a2a" stroke-width="1.2"/>
<text x="377.20" y="225.40" font-size="8.8" text-anchor="end" fill="#222" stroke="#222" stroke-width="0.15" >0.0</text>
<line x1="383.10" y1="208.67" x2="385.30" y2="208.67" stroke="#2a2a2a" stroke-width="1.2"/>
<line x1="680.80" y1="208.67" x2="683.40" y2="208.67" stroke="#2a2a2a" stroke-width="1.2"/>
<line x1="383.10" y1="194.35" x2="385.30" y2="194.35" stroke="#2a2a2a" stroke-width="1.2"/>
<line x1="680.80" y1="194.35" x2="683.40" y2="194.35" stroke="#2a2a2a" stroke-width="1.2"/>
<line x1="380.70" y1="180.02" x2="385.30" y2="180.02" stroke="#2a2a2a" stroke-width="1.2"/>
<line x1="679.20" y1="180.02" x2="683.40" y2="180.02" stroke="#2a2a2a" stroke-width="1.2"/>
<text x="377.20" y="182.42" font-size="8.8" text-anchor="end" fill="#222" stroke="#222" stroke-width="0.15" >0.3</text>
<line x1="383.10" y1="165.69" x2="385.30" y2="165.69" stroke="#2a2a2a" stroke-width="1.2"/>
<line x1="680.80" y1="165.69" x2="683.40" y2="165.69" stroke="#2a2a2a" stroke-width="1.2"/>
<line x1="383.10" y1="151.37" x2="385.30" y2="151.37" stroke="#2a2a2a" stroke-width="1.2"/>
<line x1="680.80" y1="151.37" x2="683.40" y2="151.37" stroke="#2a2a2a" stroke-width="1.2"/>
<line x1="380.70" y1="137.04" x2="385.30" y2="137.04" stroke="#2a2a2a" stroke-width="1.2"/>
<line x1="679.20" y1="137.04" x2="683.40" y2="137.04" stroke="#2a2a2a" stroke-width="1.2"/>
<text x="377.20" y="139.44" font-size="8.8" text-anchor="end" fill="#222" stroke="#222" stroke-width="0.15" >0.6</text>
<line x1="383.10" y1="122.71" x2="385.30" y2="122.71" stroke="#2a2a2a" stroke-width="1.2"/>
<line x1="680.80" y1="122.71" x2="683.40" y2="122.71" stroke="#2a2a2a" stroke-width="1.2"/>
<line x1="383.10" y1="108.38" x2="385.30" y2="108.38" stroke="#2a2a2a" stroke-width="1.2"/>
<line x1="680.80" y1="108.38" x2="683.40" y2="108.38" stroke="#2a2a2a" stroke-width="1.2"/>
<line x1="380.70" y1="94.06" x2="385.30" y2="94.06" stroke="#2a2a2a" stroke-width="1.2"/>
<line x1="679.20" y1="94.06" x2="683.40" y2="94.06" stroke="#2a2a2a" stroke-width="1.2"/>
<text x="377.20" y="96.46" font-size="8.8" text-anchor="end" fill="#222" stroke="#222" stroke-width="0.15" >0.9</text>
<line x1="383.10" y1="79.73" x2="385.30" y2="79.73" stroke="#2a2a2a" stroke-width="1.2"/>
<line x1="680.80" y1="79.73" x2="683.40" y2="79.73" stroke="#2a2a2a" stroke-width="1.2"/>
<line x1="383.10" y1="65.40" x2="385.30" y2="65.40" stroke="#2a2a2a" stroke-width="1.2"/>
<line x1="680.80" y1="65.40" x2="683.40" y2="65.40" stroke="#2a2a2a" stroke-width="1.2"/>
<line x1="380.70" y1="51.08" x2="385.30" y2="51.08" stroke="#2a2a2a" stroke-width="1.2"/>
<line x1="679.20" y1="51.08" x2="683.40" y2="51.08" stroke="#2a2a2a" stroke-width="1.2"/>
<text x="377.20" y="53.48" font-size="8.8" text-anchor="end" fill="#222" stroke="#222" stroke-width="0.15" >1.2</text>
<line x1="383.10" y1="36.75" x2="385.30" y2="36.75" stroke="#2a2a2a" stroke-width="1.2"/>
<line x1="680.80" y1="36.75" x2="683.40" y2="36.75" stroke="#2a2a2a" stroke-width="1.2"/>
<line x1="383.10" y1="22.42" x2="385.30" y2="22.42" stroke="#2a2a2a" stroke-width="1.2"/>
<line x1="680.80" y1="22.42" x2="683.40" y2="22.42" stroke="#2a2a2a" stroke-width="1.2"/>
<line x1="380.70" y1="8.09" x2="385.30" y2="8.09" stroke="#2a2a2a" stroke-width="1.2"/>
<text x="377.20" y="10.49" font-size="8.8" text-anchor="end" fill="#222" stroke="#222" stroke-width="0.15" >1.5</text>
<line x1="395.30" y1="227.50" x2="395.30" y2="232.50" stroke="#2a2a2a" stroke-width="1.2"/>
<line x1="395.30" y1="8.10" x2="395.30" y2="12.50" stroke="#2a2a2a" stroke-width="1.2"/>
<text x="395.30" y="241.80" font-size="8.8" text-anchor="middle" fill="#222" stroke="#222" stroke-width="0.15" >40</text>
<line x1="430.02" y1="227.50" x2="430.02" y2="230.50" stroke="#2a2a2a" stroke-width="1.2"/>
<line x1="430.02" y1="8.10" x2="430.02" y2="11.10" stroke="#2a2a2a" stroke-width="1.2"/>
<line x1="464.74" y1="227.50" x2="464.74" y2="232.50" stroke="#2a2a2a" stroke-width="1.2"/>
<line x1="464.74" y1="8.10" x2="464.74" y2="12.50" stroke="#2a2a2a" stroke-width="1.2"/>
<text x="464.74" y="241.80" font-size="8.8" text-anchor="middle" fill="#222" stroke="#222" stroke-width="0.15" >60</text>
<line x1="499.46" y1="227.50" x2="499.46" y2="230.50" stroke="#2a2a2a" stroke-width="1.2"/>
<line x1="499.46" y1="8.10" x2="499.46" y2="11.10" stroke="#2a2a2a" stroke-width="1.2"/>
<line x1="534.18" y1="227.50" x2="534.18" y2="232.50" stroke="#2a2a2a" stroke-width="1.2"/>
<line x1="534.18" y1="8.10" x2="534.18" y2="12.50" stroke="#2a2a2a" stroke-width="1.2"/>
<text x="534.18" y="241.80" font-size="8.8" text-anchor="middle" fill="#222" stroke="#222" stroke-width="0.15" >80</text>
<line x1="568.90" y1="227.50" x2="568.90" y2="230.50" stroke="#2a2a2a" stroke-width="1.2"/>
<line x1="568.90" y1="8.10" x2="568.90" y2="11.10" stroke="#2a2a2a" stroke-width="1.2"/>
<line x1="603.62" y1="227.50" x2="603.62" y2="232.50" stroke="#2a2a2a" stroke-width="1.2"/>
<line x1="603.62" y1="8.10" x2="603.62" y2="12.50" stroke="#2a2a2a" stroke-width="1.2"/>
<text x="603.62" y="241.80" font-size="8.8" text-anchor="middle" fill="#222" stroke="#222" stroke-width="0.15" >100</text>
<line x1="638.34" y1="227.50" x2="638.34" y2="230.50" stroke="#2a2a2a" stroke-width="1.2"/>
<line x1="638.34" y1="8.10" x2="638.34" y2="11.10" stroke="#2a2a2a" stroke-width="1.2"/>
<line x1="673.06" y1="227.50" x2="673.06" y2="232.50" stroke="#2a2a2a" stroke-width="1.2"/>
<line x1="673.06" y1="8.10" x2="673.06" y2="12.50" stroke="#2a2a2a" stroke-width="1.2"/>
<text x="673.06" y="241.80" font-size="8.8" text-anchor="middle" fill="#222" stroke="#222" stroke-width="0.15" >120</text>
<text x="533.90" y="254.00" font-size="11" text-anchor="middle" fill="#222" stroke="#222" stroke-width="0.3" >Pump power (mW)</text>
<text x="0.00" y="0.00" font-size="10.4" text-anchor="middle" fill="#222" stroke="#222" stroke-width="0.3" transform="translate(361.6,124.5) rotate(-90)"><tspan fill="#444" stroke="none">Δλ</tspan> (nm)</text>
<rect x="475.2" y="9.8" width="94.9" height="38.1" fill="#000"/>
<rect x="472.4" y="6.6" width="93.8" height="38.4" fill="#fff" stroke="#9a9a9a" stroke-width="0.9"/>
<line x1="474.50" y1="15.50" x2="483.40" y2="15.50" stroke="#c41414" stroke-width="1.4"/>
<line x1="492.30" y1="15.50" x2="501.80" y2="15.50" stroke="#c41414" stroke-width="1.4"/>
<circle cx="487.8" cy="15.30" r="3.9" fill="url(#gr)"/>
<text x="504.90" y="19.70" font-size="11.9" text-anchor="start" fill="#222" stroke="#222" stroke-width="0.2" >laser line</text>
<text x="555.30" y="19.10" font-size="10.5" text-anchor="start" fill="#444"  >λ</text>
<text x="561.80" y="23.70" font-size="6" text-anchor="start" fill="#555"  >1</text>
<line x1="474.50" y1="33.70" x2="483.40" y2="33.70" stroke="#1c1cc8" stroke-width="1.4"/>
<line x1="492.30" y1="33.70" x2="501.80" y2="33.70" stroke="#1c1cc8" stroke-width="1.4"/>
<circle cx="487.8" cy="33.50" r="3.9" fill="url(#gb)"/>
<text x="504.90" y="37.90" font-size="11.9" text-anchor="start" fill="#222" stroke="#222" stroke-width="0.2" >laser line</text>
<text x="555.30" y="37.30" font-size="10.5" text-anchor="start" fill="#444"  >λ</text>
<text x="561.80" y="41.90" font-size="6" text-anchor="start" fill="#555"  >2</text>
<text x="345.90" y="14.00" font-size="18.5" text-anchor="start" fill="#000" stroke="#000" stroke-width="0.4" font-weight="bold">b</text>
</svg>
</body></html>
